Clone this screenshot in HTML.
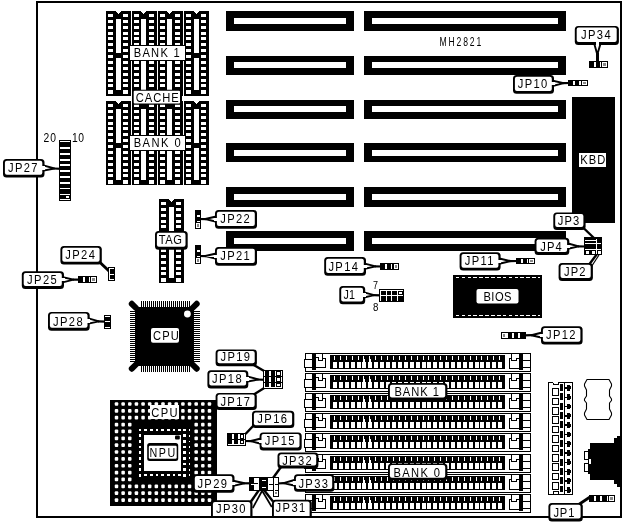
<!DOCTYPE html>
<html lang="en"><head><meta charset="utf-8"><title>MH2821 motherboard jumper layout</title>
<style>
html,body{margin:0;padding:0;background:#fff;}
body{width:624px;height:526px;overflow:hidden;}
svg{display:block;will-change:transform;font-family:"Liberation Sans",sans-serif;}
svg rect:not([rx]),svg polygon,svg line,svg polyline{shape-rendering:crispEdges;}
svg .aa{shape-rendering:geometricPrecision;}
</style></head><body>
<svg width="624" height="526" viewBox="0 0 624 526">
<rect x="0" y="0" width="624" height="526" fill="#fff"/>
<rect x="37" y="2" width="584" height="515" fill="#fff" stroke="#000" stroke-width="2"/>
<rect x="226" y="11" width="128" height="20" fill="#000"/>
<rect x="234" y="18" width="112" height="6" fill="#fff"/>
<rect x="364" y="11" width="202" height="20" fill="#000"/>
<rect x="372" y="18" width="186" height="6" fill="#fff"/>
<rect x="226" y="56" width="128" height="19" fill="#000"/>
<rect x="234" y="62" width="112" height="6" fill="#fff"/>
<rect x="364" y="56" width="202" height="19" fill="#000"/>
<rect x="372" y="62" width="186" height="6" fill="#fff"/>
<rect x="226" y="100" width="128" height="19" fill="#000"/>
<rect x="234" y="106" width="112" height="6" fill="#fff"/>
<rect x="364" y="100" width="202" height="19" fill="#000"/>
<rect x="372" y="106" width="186" height="6" fill="#fff"/>
<rect x="226" y="143" width="128" height="19" fill="#000"/>
<rect x="234" y="150" width="112" height="6" fill="#fff"/>
<rect x="364" y="143" width="202" height="19" fill="#000"/>
<rect x="372" y="150" width="186" height="6" fill="#fff"/>
<rect x="226" y="187" width="128" height="20" fill="#000"/>
<rect x="234" y="194" width="112" height="6" fill="#fff"/>
<rect x="364" y="187" width="202" height="20" fill="#000"/>
<rect x="372" y="194" width="186" height="6" fill="#fff"/>
<rect x="226" y="231" width="128" height="20" fill="#000"/>
<rect x="234" y="238" width="112" height="6" fill="#fff"/>
<rect x="364" y="231" width="202" height="20" fill="#000"/>
<rect x="372" y="238" width="186" height="6" fill="#fff"/>
<rect x="106" y="11" width="25" height="85" fill="#000"/>
<polygon points="116,11 121,11 119,14 118,14" fill="#fff"/>
<rect x="108" y="14" width="5" height="3" fill="#fff"/>
<rect x="123" y="14" width="5" height="3" fill="#fff"/>
<rect x="108" y="20" width="5" height="3" fill="#fff"/>
<rect x="123" y="20" width="5" height="3" fill="#fff"/>
<rect x="108" y="26" width="5" height="3" fill="#fff"/>
<rect x="123" y="26" width="5" height="3" fill="#fff"/>
<rect x="108" y="32" width="5" height="3" fill="#fff"/>
<rect x="123" y="32" width="5" height="3" fill="#fff"/>
<rect x="108" y="37" width="5" height="3" fill="#fff"/>
<rect x="123" y="37" width="5" height="3" fill="#fff"/>
<rect x="108" y="43" width="5" height="3" fill="#fff"/>
<rect x="123" y="43" width="5" height="3" fill="#fff"/>
<rect x="108" y="49" width="5" height="3" fill="#fff"/>
<rect x="123" y="49" width="5" height="3" fill="#fff"/>
<rect x="108" y="55" width="5" height="3" fill="#fff"/>
<rect x="123" y="55" width="5" height="3" fill="#fff"/>
<rect x="108" y="61" width="5" height="3" fill="#fff"/>
<rect x="123" y="61" width="5" height="3" fill="#fff"/>
<rect x="108" y="67" width="5" height="3" fill="#fff"/>
<rect x="123" y="67" width="5" height="3" fill="#fff"/>
<rect x="108" y="73" width="5" height="3" fill="#fff"/>
<rect x="123" y="73" width="5" height="3" fill="#fff"/>
<rect x="108" y="79" width="5" height="3" fill="#fff"/>
<rect x="123" y="79" width="5" height="3" fill="#fff"/>
<rect x="108" y="84" width="5" height="3" fill="#fff"/>
<rect x="123" y="84" width="5" height="3" fill="#fff"/>
<rect x="108" y="90" width="5" height="4" fill="#fff"/>
<rect x="123" y="90" width="5" height="4" fill="#fff"/>
<rect x="116" y="19" width="5" height="34" fill="#fff"/>
<rect x="116" y="58" width="5" height="32" fill="#fff"/>
<rect x="132" y="11" width="25" height="85" fill="#000"/>
<polygon points="141,11 146,11 144,14 143,14" fill="#fff"/>
<rect x="134" y="14" width="5" height="3" fill="#fff"/>
<rect x="149" y="14" width="5" height="3" fill="#fff"/>
<rect x="134" y="20" width="5" height="3" fill="#fff"/>
<rect x="149" y="20" width="5" height="3" fill="#fff"/>
<rect x="134" y="26" width="5" height="3" fill="#fff"/>
<rect x="149" y="26" width="5" height="3" fill="#fff"/>
<rect x="134" y="32" width="5" height="3" fill="#fff"/>
<rect x="149" y="32" width="5" height="3" fill="#fff"/>
<rect x="134" y="37" width="5" height="3" fill="#fff"/>
<rect x="149" y="37" width="5" height="3" fill="#fff"/>
<rect x="134" y="43" width="5" height="3" fill="#fff"/>
<rect x="149" y="43" width="5" height="3" fill="#fff"/>
<rect x="134" y="49" width="5" height="3" fill="#fff"/>
<rect x="149" y="49" width="5" height="3" fill="#fff"/>
<rect x="134" y="55" width="5" height="3" fill="#fff"/>
<rect x="149" y="55" width="5" height="3" fill="#fff"/>
<rect x="134" y="61" width="5" height="3" fill="#fff"/>
<rect x="149" y="61" width="5" height="3" fill="#fff"/>
<rect x="134" y="67" width="5" height="3" fill="#fff"/>
<rect x="149" y="67" width="5" height="3" fill="#fff"/>
<rect x="134" y="73" width="5" height="3" fill="#fff"/>
<rect x="149" y="73" width="5" height="3" fill="#fff"/>
<rect x="134" y="79" width="5" height="3" fill="#fff"/>
<rect x="149" y="79" width="5" height="3" fill="#fff"/>
<rect x="134" y="84" width="5" height="3" fill="#fff"/>
<rect x="149" y="84" width="5" height="3" fill="#fff"/>
<rect x="134" y="90" width="5" height="4" fill="#fff"/>
<rect x="149" y="90" width="5" height="4" fill="#fff"/>
<rect x="141" y="19" width="5" height="34" fill="#fff"/>
<rect x="141" y="58" width="5" height="32" fill="#fff"/>
<rect x="158" y="11" width="25" height="85" fill="#000"/>
<polygon points="167,11 172,11 170,14 169,14" fill="#fff"/>
<rect x="160" y="14" width="5" height="3" fill="#fff"/>
<rect x="175" y="14" width="5" height="3" fill="#fff"/>
<rect x="160" y="20" width="5" height="3" fill="#fff"/>
<rect x="175" y="20" width="5" height="3" fill="#fff"/>
<rect x="160" y="26" width="5" height="3" fill="#fff"/>
<rect x="175" y="26" width="5" height="3" fill="#fff"/>
<rect x="160" y="32" width="5" height="3" fill="#fff"/>
<rect x="175" y="32" width="5" height="3" fill="#fff"/>
<rect x="160" y="37" width="5" height="3" fill="#fff"/>
<rect x="175" y="37" width="5" height="3" fill="#fff"/>
<rect x="160" y="43" width="5" height="3" fill="#fff"/>
<rect x="175" y="43" width="5" height="3" fill="#fff"/>
<rect x="160" y="49" width="5" height="3" fill="#fff"/>
<rect x="175" y="49" width="5" height="3" fill="#fff"/>
<rect x="160" y="55" width="5" height="3" fill="#fff"/>
<rect x="175" y="55" width="5" height="3" fill="#fff"/>
<rect x="160" y="61" width="5" height="3" fill="#fff"/>
<rect x="175" y="61" width="5" height="3" fill="#fff"/>
<rect x="160" y="67" width="5" height="3" fill="#fff"/>
<rect x="175" y="67" width="5" height="3" fill="#fff"/>
<rect x="160" y="73" width="5" height="3" fill="#fff"/>
<rect x="175" y="73" width="5" height="3" fill="#fff"/>
<rect x="160" y="79" width="5" height="3" fill="#fff"/>
<rect x="175" y="79" width="5" height="3" fill="#fff"/>
<rect x="160" y="84" width="5" height="3" fill="#fff"/>
<rect x="175" y="84" width="5" height="3" fill="#fff"/>
<rect x="160" y="90" width="5" height="4" fill="#fff"/>
<rect x="175" y="90" width="5" height="4" fill="#fff"/>
<rect x="167" y="19" width="5" height="34" fill="#fff"/>
<rect x="167" y="58" width="5" height="32" fill="#fff"/>
<rect x="184" y="11" width="25" height="85" fill="#000"/>
<polygon points="194,11 199,11 197,14 196,14" fill="#fff"/>
<rect x="186" y="14" width="5" height="3" fill="#fff"/>
<rect x="201" y="14" width="5" height="3" fill="#fff"/>
<rect x="186" y="20" width="5" height="3" fill="#fff"/>
<rect x="201" y="20" width="5" height="3" fill="#fff"/>
<rect x="186" y="26" width="5" height="3" fill="#fff"/>
<rect x="201" y="26" width="5" height="3" fill="#fff"/>
<rect x="186" y="32" width="5" height="3" fill="#fff"/>
<rect x="201" y="32" width="5" height="3" fill="#fff"/>
<rect x="186" y="37" width="5" height="3" fill="#fff"/>
<rect x="201" y="37" width="5" height="3" fill="#fff"/>
<rect x="186" y="43" width="5" height="3" fill="#fff"/>
<rect x="201" y="43" width="5" height="3" fill="#fff"/>
<rect x="186" y="49" width="5" height="3" fill="#fff"/>
<rect x="201" y="49" width="5" height="3" fill="#fff"/>
<rect x="186" y="55" width="5" height="3" fill="#fff"/>
<rect x="201" y="55" width="5" height="3" fill="#fff"/>
<rect x="186" y="61" width="5" height="3" fill="#fff"/>
<rect x="201" y="61" width="5" height="3" fill="#fff"/>
<rect x="186" y="67" width="5" height="3" fill="#fff"/>
<rect x="201" y="67" width="5" height="3" fill="#fff"/>
<rect x="186" y="73" width="5" height="3" fill="#fff"/>
<rect x="201" y="73" width="5" height="3" fill="#fff"/>
<rect x="186" y="79" width="5" height="3" fill="#fff"/>
<rect x="201" y="79" width="5" height="3" fill="#fff"/>
<rect x="186" y="84" width="5" height="3" fill="#fff"/>
<rect x="201" y="84" width="5" height="3" fill="#fff"/>
<rect x="186" y="90" width="5" height="4" fill="#fff"/>
<rect x="201" y="90" width="5" height="4" fill="#fff"/>
<rect x="194" y="19" width="5" height="34" fill="#fff"/>
<rect x="194" y="58" width="5" height="32" fill="#fff"/>
<rect x="106" y="101" width="25" height="84" fill="#000"/>
<polygon points="116,101 121,101 119,104 118,104" fill="#fff"/>
<rect x="108" y="104" width="5" height="3" fill="#fff"/>
<rect x="123" y="104" width="5" height="3" fill="#fff"/>
<rect x="108" y="110" width="5" height="3" fill="#fff"/>
<rect x="123" y="110" width="5" height="3" fill="#fff"/>
<rect x="108" y="116" width="5" height="3" fill="#fff"/>
<rect x="123" y="116" width="5" height="3" fill="#fff"/>
<rect x="108" y="122" width="5" height="3" fill="#fff"/>
<rect x="123" y="122" width="5" height="3" fill="#fff"/>
<rect x="108" y="127" width="5" height="3" fill="#fff"/>
<rect x="123" y="127" width="5" height="3" fill="#fff"/>
<rect x="108" y="133" width="5" height="3" fill="#fff"/>
<rect x="123" y="133" width="5" height="3" fill="#fff"/>
<rect x="108" y="139" width="5" height="3" fill="#fff"/>
<rect x="123" y="139" width="5" height="3" fill="#fff"/>
<rect x="108" y="145" width="5" height="3" fill="#fff"/>
<rect x="123" y="145" width="5" height="3" fill="#fff"/>
<rect x="108" y="151" width="5" height="3" fill="#fff"/>
<rect x="123" y="151" width="5" height="3" fill="#fff"/>
<rect x="108" y="157" width="5" height="3" fill="#fff"/>
<rect x="123" y="157" width="5" height="3" fill="#fff"/>
<rect x="108" y="163" width="5" height="3" fill="#fff"/>
<rect x="123" y="163" width="5" height="3" fill="#fff"/>
<rect x="108" y="169" width="5" height="3" fill="#fff"/>
<rect x="123" y="169" width="5" height="3" fill="#fff"/>
<rect x="108" y="174" width="5" height="3" fill="#fff"/>
<rect x="123" y="174" width="5" height="3" fill="#fff"/>
<rect x="108" y="180" width="5" height="4" fill="#fff"/>
<rect x="123" y="180" width="5" height="4" fill="#fff"/>
<rect x="116" y="109" width="5" height="34" fill="#fff"/>
<rect x="116" y="148" width="5" height="32" fill="#fff"/>
<rect x="132" y="101" width="25" height="84" fill="#000"/>
<polygon points="141,101 146,101 144,104 143,104" fill="#fff"/>
<rect x="134" y="104" width="5" height="3" fill="#fff"/>
<rect x="149" y="104" width="5" height="3" fill="#fff"/>
<rect x="134" y="110" width="5" height="3" fill="#fff"/>
<rect x="149" y="110" width="5" height="3" fill="#fff"/>
<rect x="134" y="116" width="5" height="3" fill="#fff"/>
<rect x="149" y="116" width="5" height="3" fill="#fff"/>
<rect x="134" y="122" width="5" height="3" fill="#fff"/>
<rect x="149" y="122" width="5" height="3" fill="#fff"/>
<rect x="134" y="127" width="5" height="3" fill="#fff"/>
<rect x="149" y="127" width="5" height="3" fill="#fff"/>
<rect x="134" y="133" width="5" height="3" fill="#fff"/>
<rect x="149" y="133" width="5" height="3" fill="#fff"/>
<rect x="134" y="139" width="5" height="3" fill="#fff"/>
<rect x="149" y="139" width="5" height="3" fill="#fff"/>
<rect x="134" y="145" width="5" height="3" fill="#fff"/>
<rect x="149" y="145" width="5" height="3" fill="#fff"/>
<rect x="134" y="151" width="5" height="3" fill="#fff"/>
<rect x="149" y="151" width="5" height="3" fill="#fff"/>
<rect x="134" y="157" width="5" height="3" fill="#fff"/>
<rect x="149" y="157" width="5" height="3" fill="#fff"/>
<rect x="134" y="163" width="5" height="3" fill="#fff"/>
<rect x="149" y="163" width="5" height="3" fill="#fff"/>
<rect x="134" y="169" width="5" height="3" fill="#fff"/>
<rect x="149" y="169" width="5" height="3" fill="#fff"/>
<rect x="134" y="174" width="5" height="3" fill="#fff"/>
<rect x="149" y="174" width="5" height="3" fill="#fff"/>
<rect x="134" y="180" width="5" height="4" fill="#fff"/>
<rect x="149" y="180" width="5" height="4" fill="#fff"/>
<rect x="141" y="109" width="5" height="34" fill="#fff"/>
<rect x="141" y="148" width="5" height="32" fill="#fff"/>
<rect x="158" y="101" width="25" height="84" fill="#000"/>
<polygon points="167,101 172,101 170,104 169,104" fill="#fff"/>
<rect x="160" y="104" width="5" height="3" fill="#fff"/>
<rect x="175" y="104" width="5" height="3" fill="#fff"/>
<rect x="160" y="110" width="5" height="3" fill="#fff"/>
<rect x="175" y="110" width="5" height="3" fill="#fff"/>
<rect x="160" y="116" width="5" height="3" fill="#fff"/>
<rect x="175" y="116" width="5" height="3" fill="#fff"/>
<rect x="160" y="122" width="5" height="3" fill="#fff"/>
<rect x="175" y="122" width="5" height="3" fill="#fff"/>
<rect x="160" y="127" width="5" height="3" fill="#fff"/>
<rect x="175" y="127" width="5" height="3" fill="#fff"/>
<rect x="160" y="133" width="5" height="3" fill="#fff"/>
<rect x="175" y="133" width="5" height="3" fill="#fff"/>
<rect x="160" y="139" width="5" height="3" fill="#fff"/>
<rect x="175" y="139" width="5" height="3" fill="#fff"/>
<rect x="160" y="145" width="5" height="3" fill="#fff"/>
<rect x="175" y="145" width="5" height="3" fill="#fff"/>
<rect x="160" y="151" width="5" height="3" fill="#fff"/>
<rect x="175" y="151" width="5" height="3" fill="#fff"/>
<rect x="160" y="157" width="5" height="3" fill="#fff"/>
<rect x="175" y="157" width="5" height="3" fill="#fff"/>
<rect x="160" y="163" width="5" height="3" fill="#fff"/>
<rect x="175" y="163" width="5" height="3" fill="#fff"/>
<rect x="160" y="169" width="5" height="3" fill="#fff"/>
<rect x="175" y="169" width="5" height="3" fill="#fff"/>
<rect x="160" y="174" width="5" height="3" fill="#fff"/>
<rect x="175" y="174" width="5" height="3" fill="#fff"/>
<rect x="160" y="180" width="5" height="4" fill="#fff"/>
<rect x="175" y="180" width="5" height="4" fill="#fff"/>
<rect x="167" y="109" width="5" height="34" fill="#fff"/>
<rect x="167" y="148" width="5" height="32" fill="#fff"/>
<rect x="184" y="101" width="25" height="84" fill="#000"/>
<polygon points="194,101 199,101 197,104 196,104" fill="#fff"/>
<rect x="186" y="104" width="5" height="3" fill="#fff"/>
<rect x="201" y="104" width="5" height="3" fill="#fff"/>
<rect x="186" y="110" width="5" height="3" fill="#fff"/>
<rect x="201" y="110" width="5" height="3" fill="#fff"/>
<rect x="186" y="116" width="5" height="3" fill="#fff"/>
<rect x="201" y="116" width="5" height="3" fill="#fff"/>
<rect x="186" y="122" width="5" height="3" fill="#fff"/>
<rect x="201" y="122" width="5" height="3" fill="#fff"/>
<rect x="186" y="127" width="5" height="3" fill="#fff"/>
<rect x="201" y="127" width="5" height="3" fill="#fff"/>
<rect x="186" y="133" width="5" height="3" fill="#fff"/>
<rect x="201" y="133" width="5" height="3" fill="#fff"/>
<rect x="186" y="139" width="5" height="3" fill="#fff"/>
<rect x="201" y="139" width="5" height="3" fill="#fff"/>
<rect x="186" y="145" width="5" height="3" fill="#fff"/>
<rect x="201" y="145" width="5" height="3" fill="#fff"/>
<rect x="186" y="151" width="5" height="3" fill="#fff"/>
<rect x="201" y="151" width="5" height="3" fill="#fff"/>
<rect x="186" y="157" width="5" height="3" fill="#fff"/>
<rect x="201" y="157" width="5" height="3" fill="#fff"/>
<rect x="186" y="163" width="5" height="3" fill="#fff"/>
<rect x="201" y="163" width="5" height="3" fill="#fff"/>
<rect x="186" y="169" width="5" height="3" fill="#fff"/>
<rect x="201" y="169" width="5" height="3" fill="#fff"/>
<rect x="186" y="174" width="5" height="3" fill="#fff"/>
<rect x="201" y="174" width="5" height="3" fill="#fff"/>
<rect x="186" y="180" width="5" height="4" fill="#fff"/>
<rect x="201" y="180" width="5" height="4" fill="#fff"/>
<rect x="194" y="109" width="5" height="34" fill="#fff"/>
<rect x="194" y="148" width="5" height="32" fill="#fff"/>
<rect x="159" y="199" width="25" height="84" fill="#000"/>
<polygon points="169,199 174,199 172,202 171,202" fill="#fff"/>
<rect x="161" y="202" width="5" height="3" fill="#fff"/>
<rect x="176" y="202" width="5" height="3" fill="#fff"/>
<rect x="161" y="208" width="5" height="3" fill="#fff"/>
<rect x="176" y="208" width="5" height="3" fill="#fff"/>
<rect x="161" y="214" width="5" height="3" fill="#fff"/>
<rect x="176" y="214" width="5" height="3" fill="#fff"/>
<rect x="161" y="220" width="5" height="3" fill="#fff"/>
<rect x="176" y="220" width="5" height="3" fill="#fff"/>
<rect x="161" y="225" width="5" height="3" fill="#fff"/>
<rect x="176" y="225" width="5" height="3" fill="#fff"/>
<rect x="161" y="231" width="5" height="3" fill="#fff"/>
<rect x="176" y="231" width="5" height="3" fill="#fff"/>
<rect x="161" y="237" width="5" height="3" fill="#fff"/>
<rect x="176" y="237" width="5" height="3" fill="#fff"/>
<rect x="161" y="243" width="5" height="3" fill="#fff"/>
<rect x="176" y="243" width="5" height="3" fill="#fff"/>
<rect x="161" y="249" width="5" height="3" fill="#fff"/>
<rect x="176" y="249" width="5" height="3" fill="#fff"/>
<rect x="161" y="255" width="5" height="3" fill="#fff"/>
<rect x="176" y="255" width="5" height="3" fill="#fff"/>
<rect x="161" y="261" width="5" height="3" fill="#fff"/>
<rect x="176" y="261" width="5" height="3" fill="#fff"/>
<rect x="161" y="267" width="5" height="3" fill="#fff"/>
<rect x="176" y="267" width="5" height="3" fill="#fff"/>
<rect x="161" y="272" width="5" height="3" fill="#fff"/>
<rect x="176" y="272" width="5" height="3" fill="#fff"/>
<rect x="161" y="278" width="5" height="4" fill="#fff"/>
<rect x="176" y="278" width="5" height="4" fill="#fff"/>
<rect x="169" y="207" width="5" height="34" fill="#fff"/>
<rect x="169" y="246" width="5" height="32" fill="#fff"/>
<rect x="129" y="45" width="57" height="16" fill="#000"/>
<rect x="130" y="46" width="55" height="14" fill="#fff"/>
<text transform="translate(133.70,57) scale(0.860,1)" font-size="13" fill="#000" letter-spacing="1.448">BANK 1</text>
<rect x="129" y="135" width="57" height="16" fill="#000"/>
<rect x="130" y="136" width="55" height="14" fill="#fff"/>
<text transform="translate(133.70,147) scale(0.860,1)" font-size="13" fill="#000" letter-spacing="1.681">BANK 0</text>
<rect x="132" y="89.8" width="50" height="15" rx="2" fill="#000"/>
<rect x="133.7" y="90.8" width="46.3" height="12.6" rx="1" fill="#fff"/>
<text transform="translate(135.70,101.8) scale(0.860,1)" font-size="13" fill="#000" letter-spacing="1.124">CACHE</text>
<rect x="572" y="97" width="43" height="125.5" fill="#000"/>
<rect x="579" y="152.5" width="27" height="14" fill="#fff"/>
<text transform="translate(580.30,164) scale(0.860,1)" font-size="13" fill="#000" letter-spacing="1.170">KBD</text>
<rect x="453" y="275" width="89" height="43" fill="#000"/>
<rect x="455.8" y="277" width="3.6" height="1" fill="#fff"/>
<rect x="455.8" y="314.5" width="3.6" height="1" fill="#fff"/>
<rect x="461.68" y="277" width="3.6" height="1" fill="#fff"/>
<rect x="461.68" y="314.5" width="3.6" height="1" fill="#fff"/>
<rect x="467.56" y="277" width="3.6" height="1" fill="#fff"/>
<rect x="467.56" y="314.5" width="3.6" height="1" fill="#fff"/>
<rect x="473.44" y="277" width="3.6" height="1" fill="#fff"/>
<rect x="473.44" y="314.5" width="3.6" height="1" fill="#fff"/>
<rect x="479.32" y="277" width="3.6" height="1" fill="#fff"/>
<rect x="479.32" y="314.5" width="3.6" height="1" fill="#fff"/>
<rect x="485.2" y="277" width="3.6" height="1" fill="#fff"/>
<rect x="485.2" y="314.5" width="3.6" height="1" fill="#fff"/>
<rect x="491.08" y="277" width="3.6" height="1" fill="#fff"/>
<rect x="491.08" y="314.5" width="3.6" height="1" fill="#fff"/>
<rect x="496.96" y="277" width="3.6" height="1" fill="#fff"/>
<rect x="496.96" y="314.5" width="3.6" height="1" fill="#fff"/>
<rect x="502.84" y="277" width="3.6" height="1" fill="#fff"/>
<rect x="502.84" y="314.5" width="3.6" height="1" fill="#fff"/>
<rect x="508.72" y="277" width="3.6" height="1" fill="#fff"/>
<rect x="508.72" y="314.5" width="3.6" height="1" fill="#fff"/>
<rect x="514.6" y="277" width="3.6" height="1" fill="#fff"/>
<rect x="514.6" y="314.5" width="3.6" height="1" fill="#fff"/>
<rect x="520.48" y="277" width="3.6" height="1" fill="#fff"/>
<rect x="520.48" y="314.5" width="3.6" height="1" fill="#fff"/>
<rect x="526.36" y="277" width="3.6" height="1" fill="#fff"/>
<rect x="526.36" y="314.5" width="3.6" height="1" fill="#fff"/>
<rect x="532.24" y="277" width="3.6" height="1" fill="#fff"/>
<rect x="532.24" y="314.5" width="3.6" height="1" fill="#fff"/>
<rect x="538.12" y="277" width="2.28" height="1" fill="#fff"/>
<rect x="538.12" y="314.5" width="2.28" height="1" fill="#fff"/>
<rect x="476.5" y="289" width="42" height="14.5" rx="2" fill="#fff"/>
<text transform="translate(483.50,301) scale(0.860,1)" font-size="13" fill="#000" letter-spacing="0.496">BIOS</text>
<text transform="translate(439.60,46) scale(0.700,1)" font-size="12.3" fill="#000" letter-spacing="2.590">MH2821</text>
<text transform="translate(43.50,141.5) scale(0.860,1)" font-size="12" fill="#000" letter-spacing="1.183">20</text>
<text transform="translate(72.00,141.5) scale(0.860,1)" font-size="12" fill="#000" letter-spacing="0.602">10</text>
<text transform="translate(373.00,288.6) scale(0.782,1)" font-size="11.5" fill="#000">7</text>
<text transform="translate(373.00,311.2) scale(0.844,1)" font-size="11.5" fill="#000">8</text>
<line x1="136" y1="308" x2="131.8" y2="303.8" stroke="#000" stroke-width="6" stroke-linecap="round" class="aa"/>
<line x1="192.5" y1="308" x2="196.7" y2="303.8" stroke="#000" stroke-width="6" stroke-linecap="round" class="aa"/>
<line x1="136" y1="364.5" x2="131.8" y2="368.7" stroke="#000" stroke-width="6" stroke-linecap="round" class="aa"/>
<line x1="192.5" y1="364.5" x2="196.7" y2="368.7" stroke="#000" stroke-width="6" stroke-linecap="round" class="aa"/>
<rect x="134.5" y="306.5" width="59.5" height="59.5" fill="#000"/>
<rect x="141" y="301" width="1" height="6" fill="#000"/>
<rect x="141" y="366" width="1" height="6" fill="#000"/>
<rect x="143" y="301" width="1" height="6" fill="#000"/>
<rect x="143" y="366" width="1" height="6" fill="#000"/>
<rect x="145" y="301" width="1" height="6" fill="#000"/>
<rect x="145" y="366" width="1" height="6" fill="#000"/>
<rect x="147" y="301" width="1" height="6" fill="#000"/>
<rect x="147" y="366" width="1" height="6" fill="#000"/>
<rect x="149" y="301" width="1" height="6" fill="#000"/>
<rect x="149" y="366" width="1" height="6" fill="#000"/>
<rect x="151" y="301" width="1" height="6" fill="#000"/>
<rect x="151" y="366" width="1" height="6" fill="#000"/>
<rect x="153" y="301" width="1" height="6" fill="#000"/>
<rect x="153" y="366" width="1" height="6" fill="#000"/>
<rect x="155" y="301" width="1" height="6" fill="#000"/>
<rect x="155" y="366" width="1" height="6" fill="#000"/>
<rect x="157" y="301" width="1" height="6" fill="#000"/>
<rect x="157" y="366" width="1" height="6" fill="#000"/>
<rect x="159" y="301" width="1" height="6" fill="#000"/>
<rect x="159" y="366" width="1" height="6" fill="#000"/>
<rect x="161" y="301" width="1" height="6" fill="#000"/>
<rect x="161" y="366" width="1" height="6" fill="#000"/>
<rect x="163" y="301" width="1" height="6" fill="#000"/>
<rect x="163" y="366" width="1" height="6" fill="#000"/>
<rect x="165" y="301" width="1" height="6" fill="#000"/>
<rect x="165" y="366" width="1" height="6" fill="#000"/>
<rect x="167" y="301" width="1" height="6" fill="#000"/>
<rect x="167" y="366" width="1" height="6" fill="#000"/>
<rect x="169" y="301" width="1" height="6" fill="#000"/>
<rect x="169" y="366" width="1" height="6" fill="#000"/>
<rect x="171" y="301" width="1" height="6" fill="#000"/>
<rect x="171" y="366" width="1" height="6" fill="#000"/>
<rect x="173" y="301" width="1" height="6" fill="#000"/>
<rect x="173" y="366" width="1" height="6" fill="#000"/>
<rect x="175" y="301" width="1" height="6" fill="#000"/>
<rect x="175" y="366" width="1" height="6" fill="#000"/>
<rect x="177" y="301" width="1" height="6" fill="#000"/>
<rect x="177" y="366" width="1" height="6" fill="#000"/>
<rect x="179" y="301" width="1" height="6" fill="#000"/>
<rect x="179" y="366" width="1" height="6" fill="#000"/>
<rect x="181" y="301" width="1" height="6" fill="#000"/>
<rect x="181" y="366" width="1" height="6" fill="#000"/>
<rect x="183" y="301" width="1" height="6" fill="#000"/>
<rect x="183" y="366" width="1" height="6" fill="#000"/>
<rect x="185" y="301" width="1" height="6" fill="#000"/>
<rect x="185" y="366" width="1" height="6" fill="#000"/>
<rect x="187" y="301" width="1" height="6" fill="#000"/>
<rect x="187" y="366" width="1" height="6" fill="#000"/>
<rect x="189" y="301" width="1" height="6" fill="#000"/>
<rect x="189" y="366" width="1" height="6" fill="#000"/>
<rect x="130" y="311" width="5" height="1" fill="#000"/>
<rect x="194" y="311" width="6" height="1" fill="#000"/>
<rect x="130" y="313" width="5" height="1" fill="#000"/>
<rect x="194" y="313" width="6" height="1" fill="#000"/>
<rect x="130" y="315" width="5" height="1" fill="#000"/>
<rect x="194" y="315" width="6" height="1" fill="#000"/>
<rect x="130" y="317" width="5" height="1" fill="#000"/>
<rect x="194" y="317" width="6" height="1" fill="#000"/>
<rect x="130" y="319" width="5" height="1" fill="#000"/>
<rect x="194" y="319" width="6" height="1" fill="#000"/>
<rect x="130" y="321" width="5" height="1" fill="#000"/>
<rect x="194" y="321" width="6" height="1" fill="#000"/>
<rect x="130" y="323" width="5" height="1" fill="#000"/>
<rect x="194" y="323" width="6" height="1" fill="#000"/>
<rect x="130" y="325" width="5" height="1" fill="#000"/>
<rect x="194" y="325" width="6" height="1" fill="#000"/>
<rect x="130" y="327" width="5" height="1" fill="#000"/>
<rect x="194" y="327" width="6" height="1" fill="#000"/>
<rect x="130" y="329" width="5" height="1" fill="#000"/>
<rect x="194" y="329" width="6" height="1" fill="#000"/>
<rect x="130" y="331" width="5" height="1" fill="#000"/>
<rect x="194" y="331" width="6" height="1" fill="#000"/>
<rect x="130" y="333" width="5" height="1" fill="#000"/>
<rect x="194" y="333" width="6" height="1" fill="#000"/>
<rect x="130" y="335" width="5" height="1" fill="#000"/>
<rect x="194" y="335" width="6" height="1" fill="#000"/>
<rect x="130" y="337" width="5" height="1" fill="#000"/>
<rect x="194" y="337" width="6" height="1" fill="#000"/>
<rect x="130" y="339" width="5" height="1" fill="#000"/>
<rect x="194" y="339" width="6" height="1" fill="#000"/>
<rect x="130" y="341" width="5" height="1" fill="#000"/>
<rect x="194" y="341" width="6" height="1" fill="#000"/>
<rect x="130" y="343" width="5" height="1" fill="#000"/>
<rect x="194" y="343" width="6" height="1" fill="#000"/>
<rect x="130" y="345" width="5" height="1" fill="#000"/>
<rect x="194" y="345" width="6" height="1" fill="#000"/>
<rect x="130" y="347" width="5" height="1" fill="#000"/>
<rect x="194" y="347" width="6" height="1" fill="#000"/>
<rect x="130" y="349" width="5" height="1" fill="#000"/>
<rect x="194" y="349" width="6" height="1" fill="#000"/>
<rect x="130" y="351" width="5" height="1" fill="#000"/>
<rect x="194" y="351" width="6" height="1" fill="#000"/>
<rect x="130" y="353" width="5" height="1" fill="#000"/>
<rect x="194" y="353" width="6" height="1" fill="#000"/>
<rect x="130" y="355" width="5" height="1" fill="#000"/>
<rect x="194" y="355" width="6" height="1" fill="#000"/>
<rect x="130" y="357" width="5" height="1" fill="#000"/>
<rect x="194" y="357" width="6" height="1" fill="#000"/>
<rect x="130" y="359" width="5" height="1" fill="#000"/>
<rect x="194" y="359" width="6" height="1" fill="#000"/>
<rect x="130" y="361" width="5" height="1" fill="#000"/>
<rect x="194" y="361" width="6" height="1" fill="#000"/>
<circle cx="187.4" cy="314" r="3.4" fill="#fff"/>
<rect x="151" y="328" width="28" height="14.7" rx="2" fill="#fff"/>
<text transform="translate(152.90,340.3) scale(0.860,1)" font-size="13" fill="#000" letter-spacing="1.394">CPU</text>
<rect x="110" y="400" width="107" height="105.5" fill="#000"/>
<rect x="114.75" y="402.15" width="3.5" height="3.7" rx="1" fill="#fff"/>
<rect x="121.39" y="402.15" width="3.5" height="3.7" rx="1" fill="#fff"/>
<rect x="128.03" y="402.15" width="3.5" height="3.7" rx="1" fill="#fff"/>
<rect x="134.67" y="402.15" width="3.5" height="3.7" rx="1" fill="#fff"/>
<rect x="141.31" y="402.15" width="3.5" height="3.7" rx="1" fill="#fff"/>
<rect x="147.95" y="402.15" width="3.5" height="3.7" rx="1" fill="#fff"/>
<rect x="154.59" y="402.15" width="3.5" height="3.7" rx="1" fill="#fff"/>
<rect x="161.23" y="402.15" width="3.5" height="3.7" rx="1" fill="#fff"/>
<rect x="167.87" y="402.15" width="3.5" height="3.7" rx="1" fill="#fff"/>
<rect x="174.51" y="402.15" width="3.5" height="3.7" rx="1" fill="#fff"/>
<rect x="181.15" y="402.15" width="3.5" height="3.7" rx="1" fill="#fff"/>
<rect x="187.79" y="402.15" width="3.5" height="3.7" rx="1" fill="#fff"/>
<rect x="194.43" y="402.15" width="3.5" height="3.7" rx="1" fill="#fff"/>
<rect x="201.07" y="402.15" width="3.5" height="3.7" rx="1" fill="#fff"/>
<rect x="207.71" y="402.15" width="3.5" height="3.7" rx="1" fill="#fff"/>
<rect x="114.75" y="409.01" width="3.5" height="3.7" rx="1" fill="#fff"/>
<rect x="121.39" y="409.01" width="3.5" height="3.7" rx="1" fill="#fff"/>
<rect x="128.03" y="409.01" width="3.5" height="3.7" rx="1" fill="#fff"/>
<rect x="134.67" y="409.01" width="3.5" height="3.7" rx="1" fill="#fff"/>
<rect x="141.31" y="409.01" width="3.5" height="3.7" rx="1" fill="#fff"/>
<rect x="147.95" y="409.01" width="3.5" height="3.7" rx="1" fill="#fff"/>
<rect x="154.59" y="409.01" width="3.5" height="3.7" rx="1" fill="#fff"/>
<rect x="161.23" y="409.01" width="3.5" height="3.7" rx="1" fill="#fff"/>
<rect x="167.87" y="409.01" width="3.5" height="3.7" rx="1" fill="#fff"/>
<rect x="174.51" y="409.01" width="3.5" height="3.7" rx="1" fill="#fff"/>
<rect x="181.15" y="409.01" width="3.5" height="3.7" rx="1" fill="#fff"/>
<rect x="187.79" y="409.01" width="3.5" height="3.7" rx="1" fill="#fff"/>
<rect x="194.43" y="409.01" width="3.5" height="3.7" rx="1" fill="#fff"/>
<rect x="201.07" y="409.01" width="3.5" height="3.7" rx="1" fill="#fff"/>
<rect x="207.71" y="409.01" width="3.5" height="3.7" rx="1" fill="#fff"/>
<rect x="114.75" y="415.87" width="3.5" height="3.7" rx="1" fill="#fff"/>
<rect x="121.39" y="415.87" width="3.5" height="3.7" rx="1" fill="#fff"/>
<rect x="128.03" y="415.87" width="3.5" height="3.7" rx="1" fill="#fff"/>
<rect x="134.67" y="415.87" width="3.5" height="3.7" rx="1" fill="#fff"/>
<rect x="141.31" y="415.87" width="3.5" height="3.7" rx="1" fill="#fff"/>
<rect x="147.95" y="415.87" width="3.5" height="3.7" rx="1" fill="#fff"/>
<rect x="154.59" y="415.87" width="3.5" height="3.7" rx="1" fill="#fff"/>
<rect x="161.23" y="415.87" width="3.5" height="3.7" rx="1" fill="#fff"/>
<rect x="167.87" y="415.87" width="3.5" height="3.7" rx="1" fill="#fff"/>
<rect x="174.51" y="415.87" width="3.5" height="3.7" rx="1" fill="#fff"/>
<rect x="181.15" y="415.87" width="3.5" height="3.7" rx="1" fill="#fff"/>
<rect x="187.79" y="415.87" width="3.5" height="3.7" rx="1" fill="#fff"/>
<rect x="194.43" y="415.87" width="3.5" height="3.7" rx="1" fill="#fff"/>
<rect x="201.07" y="415.87" width="3.5" height="3.7" rx="1" fill="#fff"/>
<rect x="207.71" y="415.87" width="3.5" height="3.7" rx="1" fill="#fff"/>
<rect x="114.75" y="422.73" width="3.5" height="3.7" rx="1" fill="#fff"/>
<rect x="121.39" y="422.73" width="3.5" height="3.7" rx="1" fill="#fff"/>
<rect x="128.03" y="422.73" width="3.5" height="3.7" rx="1" fill="#fff"/>
<rect x="194.43" y="422.73" width="3.5" height="3.7" rx="1" fill="#fff"/>
<rect x="201.07" y="422.73" width="3.5" height="3.7" rx="1" fill="#fff"/>
<rect x="207.71" y="422.73" width="3.5" height="3.7" rx="1" fill="#fff"/>
<rect x="114.75" y="429.59" width="3.5" height="3.7" rx="1" fill="#fff"/>
<rect x="121.39" y="429.59" width="3.5" height="3.7" rx="1" fill="#fff"/>
<rect x="128.03" y="429.59" width="3.5" height="3.7" rx="1" fill="#fff"/>
<rect x="194.43" y="429.59" width="3.5" height="3.7" rx="1" fill="#fff"/>
<rect x="201.07" y="429.59" width="3.5" height="3.7" rx="1" fill="#fff"/>
<rect x="207.71" y="429.59" width="3.5" height="3.7" rx="1" fill="#fff"/>
<rect x="114.75" y="436.45" width="3.5" height="3.7" rx="1" fill="#fff"/>
<rect x="121.39" y="436.45" width="3.5" height="3.7" rx="1" fill="#fff"/>
<rect x="128.03" y="436.45" width="3.5" height="3.7" rx="1" fill="#fff"/>
<rect x="194.43" y="436.45" width="3.5" height="3.7" rx="1" fill="#fff"/>
<rect x="201.07" y="436.45" width="3.5" height="3.7" rx="1" fill="#fff"/>
<rect x="207.71" y="436.45" width="3.5" height="3.7" rx="1" fill="#fff"/>
<rect x="114.75" y="443.31" width="3.5" height="3.7" rx="1" fill="#fff"/>
<rect x="121.39" y="443.31" width="3.5" height="3.7" rx="1" fill="#fff"/>
<rect x="128.03" y="443.31" width="3.5" height="3.7" rx="1" fill="#fff"/>
<rect x="194.43" y="443.31" width="3.5" height="3.7" rx="1" fill="#fff"/>
<rect x="201.07" y="443.31" width="3.5" height="3.7" rx="1" fill="#fff"/>
<rect x="207.71" y="443.31" width="3.5" height="3.7" rx="1" fill="#fff"/>
<rect x="114.75" y="450.17" width="3.5" height="3.7" rx="1" fill="#fff"/>
<rect x="121.39" y="450.17" width="3.5" height="3.7" rx="1" fill="#fff"/>
<rect x="128.03" y="450.17" width="3.5" height="3.7" rx="1" fill="#fff"/>
<rect x="194.43" y="450.17" width="3.5" height="3.7" rx="1" fill="#fff"/>
<rect x="201.07" y="450.17" width="3.5" height="3.7" rx="1" fill="#fff"/>
<rect x="207.71" y="450.17" width="3.5" height="3.7" rx="1" fill="#fff"/>
<rect x="114.75" y="457.03" width="3.5" height="3.7" rx="1" fill="#fff"/>
<rect x="121.39" y="457.03" width="3.5" height="3.7" rx="1" fill="#fff"/>
<rect x="128.03" y="457.03" width="3.5" height="3.7" rx="1" fill="#fff"/>
<rect x="194.43" y="457.03" width="3.5" height="3.7" rx="1" fill="#fff"/>
<rect x="201.07" y="457.03" width="3.5" height="3.7" rx="1" fill="#fff"/>
<rect x="207.71" y="457.03" width="3.5" height="3.7" rx="1" fill="#fff"/>
<rect x="114.75" y="463.89" width="3.5" height="3.7" rx="1" fill="#fff"/>
<rect x="121.39" y="463.89" width="3.5" height="3.7" rx="1" fill="#fff"/>
<rect x="128.03" y="463.89" width="3.5" height="3.7" rx="1" fill="#fff"/>
<rect x="194.43" y="463.89" width="3.5" height="3.7" rx="1" fill="#fff"/>
<rect x="201.07" y="463.89" width="3.5" height="3.7" rx="1" fill="#fff"/>
<rect x="207.71" y="463.89" width="3.5" height="3.7" rx="1" fill="#fff"/>
<rect x="114.75" y="470.75" width="3.5" height="3.7" rx="1" fill="#fff"/>
<rect x="121.39" y="470.75" width="3.5" height="3.7" rx="1" fill="#fff"/>
<rect x="128.03" y="470.75" width="3.5" height="3.7" rx="1" fill="#fff"/>
<rect x="194.43" y="470.75" width="3.5" height="3.7" rx="1" fill="#fff"/>
<rect x="201.07" y="470.75" width="3.5" height="3.7" rx="1" fill="#fff"/>
<rect x="207.71" y="470.75" width="3.5" height="3.7" rx="1" fill="#fff"/>
<rect x="114.75" y="477.61" width="3.5" height="3.7" rx="1" fill="#fff"/>
<rect x="121.39" y="477.61" width="3.5" height="3.7" rx="1" fill="#fff"/>
<rect x="128.03" y="477.61" width="3.5" height="3.7" rx="1" fill="#fff"/>
<rect x="194.43" y="477.61" width="3.5" height="3.7" rx="1" fill="#fff"/>
<rect x="201.07" y="477.61" width="3.5" height="3.7" rx="1" fill="#fff"/>
<rect x="207.71" y="477.61" width="3.5" height="3.7" rx="1" fill="#fff"/>
<rect x="114.75" y="484.47" width="3.5" height="3.7" rx="1" fill="#fff"/>
<rect x="121.39" y="484.47" width="3.5" height="3.7" rx="1" fill="#fff"/>
<rect x="128.03" y="484.47" width="3.5" height="3.7" rx="1" fill="#fff"/>
<rect x="134.67" y="484.47" width="3.5" height="3.7" rx="1" fill="#fff"/>
<rect x="141.31" y="484.47" width="3.5" height="3.7" rx="1" fill="#fff"/>
<rect x="147.95" y="484.47" width="3.5" height="3.7" rx="1" fill="#fff"/>
<rect x="154.59" y="484.47" width="3.5" height="3.7" rx="1" fill="#fff"/>
<rect x="161.23" y="484.47" width="3.5" height="3.7" rx="1" fill="#fff"/>
<rect x="167.87" y="484.47" width="3.5" height="3.7" rx="1" fill="#fff"/>
<rect x="174.51" y="484.47" width="3.5" height="3.7" rx="1" fill="#fff"/>
<rect x="181.15" y="484.47" width="3.5" height="3.7" rx="1" fill="#fff"/>
<rect x="187.79" y="484.47" width="3.5" height="3.7" rx="1" fill="#fff"/>
<rect x="194.43" y="484.47" width="3.5" height="3.7" rx="1" fill="#fff"/>
<rect x="201.07" y="484.47" width="3.5" height="3.7" rx="1" fill="#fff"/>
<rect x="207.71" y="484.47" width="3.5" height="3.7" rx="1" fill="#fff"/>
<rect x="114.75" y="491.33" width="3.5" height="3.7" rx="1" fill="#fff"/>
<rect x="121.39" y="491.33" width="3.5" height="3.7" rx="1" fill="#fff"/>
<rect x="128.03" y="491.33" width="3.5" height="3.7" rx="1" fill="#fff"/>
<rect x="134.67" y="491.33" width="3.5" height="3.7" rx="1" fill="#fff"/>
<rect x="141.31" y="491.33" width="3.5" height="3.7" rx="1" fill="#fff"/>
<rect x="147.95" y="491.33" width="3.5" height="3.7" rx="1" fill="#fff"/>
<rect x="154.59" y="491.33" width="3.5" height="3.7" rx="1" fill="#fff"/>
<rect x="161.23" y="491.33" width="3.5" height="3.7" rx="1" fill="#fff"/>
<rect x="167.87" y="491.33" width="3.5" height="3.7" rx="1" fill="#fff"/>
<rect x="174.51" y="491.33" width="3.5" height="3.7" rx="1" fill="#fff"/>
<rect x="181.15" y="491.33" width="3.5" height="3.7" rx="1" fill="#fff"/>
<rect x="187.79" y="491.33" width="3.5" height="3.7" rx="1" fill="#fff"/>
<rect x="194.43" y="491.33" width="3.5" height="3.7" rx="1" fill="#fff"/>
<rect x="201.07" y="491.33" width="3.5" height="3.7" rx="1" fill="#fff"/>
<rect x="207.71" y="491.33" width="3.5" height="3.7" rx="1" fill="#fff"/>
<rect x="114.75" y="498.19" width="3.5" height="3.7" rx="1" fill="#fff"/>
<rect x="121.39" y="498.19" width="3.5" height="3.7" rx="1" fill="#fff"/>
<rect x="128.03" y="498.19" width="3.5" height="3.7" rx="1" fill="#fff"/>
<rect x="134.67" y="498.19" width="3.5" height="3.7" rx="1" fill="#fff"/>
<rect x="141.31" y="498.19" width="3.5" height="3.7" rx="1" fill="#fff"/>
<rect x="147.95" y="498.19" width="3.5" height="3.7" rx="1" fill="#fff"/>
<rect x="154.59" y="498.19" width="3.5" height="3.7" rx="1" fill="#fff"/>
<rect x="161.23" y="498.19" width="3.5" height="3.7" rx="1" fill="#fff"/>
<rect x="167.87" y="498.19" width="3.5" height="3.7" rx="1" fill="#fff"/>
<rect x="174.51" y="498.19" width="3.5" height="3.7" rx="1" fill="#fff"/>
<rect x="181.15" y="498.19" width="3.5" height="3.7" rx="1" fill="#fff"/>
<rect x="187.79" y="498.19" width="3.5" height="3.7" rx="1" fill="#fff"/>
<rect x="194.43" y="498.19" width="3.5" height="3.7" rx="1" fill="#fff"/>
<rect x="201.07" y="498.19" width="3.5" height="3.7" rx="1" fill="#fff"/>
<rect x="207.71" y="498.19" width="3.5" height="3.7" rx="1" fill="#fff"/>
<rect x="138.8" y="428.7" width="2.6" height="2.6" fill="#fff"/>
<rect x="138.8" y="473.7" width="2.6" height="2.6" fill="#fff"/>
<rect x="144.45" y="428.7" width="2.6" height="2.6" fill="#fff"/>
<rect x="144.45" y="473.7" width="2.6" height="2.6" fill="#fff"/>
<rect x="150.1" y="428.7" width="2.6" height="2.6" fill="#fff"/>
<rect x="150.1" y="473.7" width="2.6" height="2.6" fill="#fff"/>
<rect x="155.75" y="428.7" width="2.6" height="2.6" fill="#fff"/>
<rect x="155.75" y="473.7" width="2.6" height="2.6" fill="#fff"/>
<rect x="161.4" y="428.7" width="2.6" height="2.6" fill="#fff"/>
<rect x="161.4" y="473.7" width="2.6" height="2.6" fill="#fff"/>
<rect x="167.05" y="428.7" width="2.6" height="2.6" fill="#fff"/>
<rect x="167.05" y="473.7" width="2.6" height="2.6" fill="#fff"/>
<rect x="172.7" y="428.7" width="2.6" height="2.6" fill="#fff"/>
<rect x="172.7" y="473.7" width="2.6" height="2.6" fill="#fff"/>
<rect x="178.35" y="428.7" width="2.6" height="2.6" fill="#fff"/>
<rect x="178.35" y="473.7" width="2.6" height="2.6" fill="#fff"/>
<rect x="138.7" y="428.8" width="2.6" height="2.6" fill="#fff"/>
<rect x="183.2" y="428.8" width="2.6" height="2.6" fill="#fff"/>
<rect x="189" y="429.2" width="0.9" height="1.8" fill="#fff"/>
<rect x="138.7" y="434.45" width="2.6" height="2.6" fill="#fff"/>
<rect x="183.2" y="434.45" width="2.6" height="2.6" fill="#fff"/>
<rect x="189" y="434.85" width="0.9" height="1.8" fill="#fff"/>
<rect x="138.7" y="440.1" width="2.6" height="2.6" fill="#fff"/>
<rect x="183.2" y="440.1" width="2.6" height="2.6" fill="#fff"/>
<rect x="189" y="440.5" width="0.9" height="1.8" fill="#fff"/>
<rect x="138.7" y="445.75" width="2.6" height="2.6" fill="#fff"/>
<rect x="183.2" y="445.75" width="2.6" height="2.6" fill="#fff"/>
<rect x="189" y="446.15" width="0.9" height="1.8" fill="#fff"/>
<rect x="138.7" y="451.4" width="2.6" height="2.6" fill="#fff"/>
<rect x="183.2" y="451.4" width="2.6" height="2.6" fill="#fff"/>
<rect x="189" y="451.8" width="0.9" height="1.8" fill="#fff"/>
<rect x="138.7" y="457.05" width="2.6" height="2.6" fill="#fff"/>
<rect x="183.2" y="457.05" width="2.6" height="2.6" fill="#fff"/>
<rect x="189" y="457.45" width="0.9" height="1.8" fill="#fff"/>
<rect x="138.7" y="462.7" width="2.6" height="2.6" fill="#fff"/>
<rect x="183.2" y="462.7" width="2.6" height="2.6" fill="#fff"/>
<rect x="189" y="463.1" width="0.9" height="1.8" fill="#fff"/>
<rect x="138.7" y="468.35" width="2.6" height="2.6" fill="#fff"/>
<rect x="183.2" y="468.35" width="2.6" height="2.6" fill="#fff"/>
<rect x="189" y="468.75" width="0.9" height="1.8" fill="#fff"/>
<rect x="138.7" y="474" width="2.6" height="2.6" fill="#fff"/>
<rect x="183.2" y="474" width="2.6" height="2.6" fill="#fff"/>
<rect x="189" y="474.4" width="0.9" height="1.8" fill="#fff"/>
<rect x="144" y="435" width="37" height="36" fill="#fff"/>
<rect x="175" y="435.5" width="4.8" height="4" rx="1" fill="#000"/>
<rect x="147.2" y="443.1" width="31" height="17.9" rx="2.5" fill="#000"/>
<rect x="148.8" y="445.7" width="27.9" height="13.1" rx="1.2" fill="#fff"/>
<text transform="translate(149.60,456.7) scale(0.860,1)" font-size="12.5" fill="#000" letter-spacing="1.688">NPU</text>
<rect x="150" y="405" width="28.5" height="14" fill="#fff"/>
<text transform="translate(151.15,416.6) scale(0.860,1)" font-size="13" fill="#000" letter-spacing="1.684">CPU</text>
<rect x="305.5" y="353.5" width="225" height="18" fill="#fff" stroke="#000" stroke-width="1"/>
<rect x="304.5" y="359.5" width="8" height="7.5" fill="#fff" stroke="#000" stroke-width="1"/>
<rect x="312" y="354" width="4" height="16" fill="#000"/>
<polyline points="316,357.5 318.8,357.5 318.8,360.8 322.3,360.8 322.3,353.5" fill="none" stroke="#000" stroke-width="1"/>
<polyline points="322.3,358.8 325.5,358.8 325.5,367.5 316,367.5" fill="none" stroke="#000" stroke-width="1"/>
<rect x="519.3" y="353.5" width="3.5" height="16.4" fill="#000"/>
<rect x="523" y="360" width="8" height="1.1" fill="#000"/>
<rect x="523" y="367" width="8" height="1.1" fill="#000"/>
<polyline points="519.5,368 509.5,368 509.5,358.5 512,358.5" fill="none" stroke="#000" stroke-width="1"/>
<polyline points="511.7,353.5 511.7,360.7 516.8,360.7 516.8,358.3 519.5,358.3" fill="none" stroke="#000" stroke-width="1"/>
<rect x="330" y="355.3" width="175" height="13.5" fill="#000"/>
<rect x="333" y="362" width="4" height="6" fill="#fff"/>
<rect x="334" y="356.3" width="1" height="3.7" fill="#fff"/>
<rect x="339" y="362" width="4" height="6" fill="#fff"/>
<rect x="340" y="356.3" width="1" height="3.7" fill="#fff"/>
<rect x="345" y="362" width="4" height="6" fill="#fff"/>
<rect x="346" y="356.3" width="1" height="3.7" fill="#fff"/>
<rect x="351" y="362" width="4" height="6" fill="#fff"/>
<rect x="352" y="356.3" width="1" height="3.7" fill="#fff"/>
<rect x="357" y="362" width="4" height="6" fill="#fff"/>
<rect x="358" y="356.3" width="1" height="3.7" fill="#fff"/>
<rect x="362" y="362" width="4" height="6" fill="#fff"/>
<rect x="363" y="356.3" width="1" height="3.7" fill="#fff"/>
<rect x="363" y="359" width="2" height="3.2" fill="#fff"/>
<rect x="368" y="362" width="4" height="6" fill="#fff"/>
<rect x="369" y="356.3" width="1" height="3.7" fill="#fff"/>
<rect x="369" y="359" width="2" height="3.2" fill="#fff"/>
<rect x="374" y="362" width="4" height="6" fill="#fff"/>
<rect x="375" y="356.3" width="1" height="3.7" fill="#fff"/>
<rect x="380" y="362" width="4" height="6" fill="#fff"/>
<rect x="381" y="356.3" width="1" height="3.7" fill="#fff"/>
<rect x="386" y="362" width="4" height="6" fill="#fff"/>
<rect x="387" y="356.3" width="1" height="3.7" fill="#fff"/>
<rect x="392" y="362" width="4" height="6" fill="#fff"/>
<rect x="393" y="356.3" width="1" height="3.7" fill="#fff"/>
<rect x="398" y="362" width="4" height="6" fill="#fff"/>
<rect x="399" y="356.3" width="1" height="3.7" fill="#fff"/>
<rect x="404" y="362" width="4" height="6" fill="#fff"/>
<rect x="405" y="356.3" width="1" height="3.7" fill="#fff"/>
<rect x="410" y="362" width="4" height="6" fill="#fff"/>
<rect x="411" y="356.3" width="1" height="3.7" fill="#fff"/>
<rect x="416" y="362" width="4" height="6" fill="#fff"/>
<rect x="417" y="356.3" width="1" height="3.7" fill="#fff"/>
<rect x="422" y="362" width="4" height="6" fill="#fff"/>
<rect x="423" y="356.3" width="1" height="3.7" fill="#fff"/>
<rect x="427" y="362" width="4" height="6" fill="#fff"/>
<rect x="428" y="356.3" width="1" height="3.7" fill="#fff"/>
<rect x="433" y="362" width="4" height="6" fill="#fff"/>
<rect x="434" y="356.3" width="1" height="3.7" fill="#fff"/>
<rect x="439" y="362" width="4" height="6" fill="#fff"/>
<rect x="440" y="356.3" width="1" height="3.7" fill="#fff"/>
<rect x="445" y="362" width="4" height="6" fill="#fff"/>
<rect x="446" y="356.3" width="1" height="3.7" fill="#fff"/>
<rect x="451" y="362" width="4" height="6" fill="#fff"/>
<rect x="452" y="356.3" width="1" height="3.7" fill="#fff"/>
<rect x="457" y="362" width="4" height="6" fill="#fff"/>
<rect x="458" y="356.3" width="1" height="3.7" fill="#fff"/>
<rect x="463" y="362" width="4" height="6" fill="#fff"/>
<rect x="464" y="356.3" width="1" height="3.7" fill="#fff"/>
<rect x="469" y="362" width="4" height="6" fill="#fff"/>
<rect x="470" y="356.3" width="1" height="3.7" fill="#fff"/>
<rect x="475" y="362" width="4" height="6" fill="#fff"/>
<rect x="476" y="356.3" width="1" height="3.7" fill="#fff"/>
<rect x="480" y="362" width="4" height="6" fill="#fff"/>
<rect x="481" y="356.3" width="1" height="3.7" fill="#fff"/>
<rect x="486" y="362" width="4" height="6" fill="#fff"/>
<rect x="487" y="356.3" width="1" height="3.7" fill="#fff"/>
<rect x="492" y="362" width="4" height="6" fill="#fff"/>
<rect x="493" y="356.3" width="1" height="3.7" fill="#fff"/>
<rect x="498" y="362" width="4" height="6" fill="#fff"/>
<rect x="499" y="356.3" width="1" height="3.7" fill="#fff"/>
<rect x="305.5" y="373.5" width="225" height="18" fill="#fff" stroke="#000" stroke-width="1"/>
<rect x="304.5" y="379.5" width="8" height="7.5" fill="#fff" stroke="#000" stroke-width="1"/>
<rect x="312" y="374" width="4" height="16" fill="#000"/>
<polyline points="316,377.5 318.8,377.5 318.8,380.8 322.3,380.8 322.3,373.5" fill="none" stroke="#000" stroke-width="1"/>
<polyline points="322.3,378.8 325.5,378.8 325.5,387.5 316,387.5" fill="none" stroke="#000" stroke-width="1"/>
<rect x="519.3" y="373.5" width="3.5" height="16.4" fill="#000"/>
<rect x="523" y="380" width="8" height="1.1" fill="#000"/>
<rect x="523" y="387" width="8" height="1.1" fill="#000"/>
<polyline points="519.5,388 509.5,388 509.5,378.5 512,378.5" fill="none" stroke="#000" stroke-width="1"/>
<polyline points="511.7,373.5 511.7,380.7 516.8,380.7 516.8,378.3 519.5,378.3" fill="none" stroke="#000" stroke-width="1"/>
<rect x="330" y="375.3" width="175" height="13.5" fill="#000"/>
<rect x="333" y="382" width="4" height="6" fill="#fff"/>
<rect x="334" y="376.3" width="1" height="3.7" fill="#fff"/>
<rect x="339" y="382" width="4" height="6" fill="#fff"/>
<rect x="340" y="376.3" width="1" height="3.7" fill="#fff"/>
<rect x="345" y="382" width="4" height="6" fill="#fff"/>
<rect x="346" y="376.3" width="1" height="3.7" fill="#fff"/>
<rect x="351" y="382" width="4" height="6" fill="#fff"/>
<rect x="352" y="376.3" width="1" height="3.7" fill="#fff"/>
<rect x="357" y="382" width="4" height="6" fill="#fff"/>
<rect x="358" y="376.3" width="1" height="3.7" fill="#fff"/>
<rect x="362" y="382" width="4" height="6" fill="#fff"/>
<rect x="363" y="376.3" width="1" height="3.7" fill="#fff"/>
<rect x="363" y="379" width="2" height="3.2" fill="#fff"/>
<rect x="368" y="382" width="4" height="6" fill="#fff"/>
<rect x="369" y="376.3" width="1" height="3.7" fill="#fff"/>
<rect x="369" y="379" width="2" height="3.2" fill="#fff"/>
<rect x="374" y="382" width="4" height="6" fill="#fff"/>
<rect x="375" y="376.3" width="1" height="3.7" fill="#fff"/>
<rect x="380" y="382" width="4" height="6" fill="#fff"/>
<rect x="381" y="376.3" width="1" height="3.7" fill="#fff"/>
<rect x="386" y="382" width="4" height="6" fill="#fff"/>
<rect x="387" y="376.3" width="1" height="3.7" fill="#fff"/>
<rect x="392" y="382" width="4" height="6" fill="#fff"/>
<rect x="393" y="376.3" width="1" height="3.7" fill="#fff"/>
<rect x="398" y="382" width="4" height="6" fill="#fff"/>
<rect x="399" y="376.3" width="1" height="3.7" fill="#fff"/>
<rect x="404" y="382" width="4" height="6" fill="#fff"/>
<rect x="405" y="376.3" width="1" height="3.7" fill="#fff"/>
<rect x="410" y="382" width="4" height="6" fill="#fff"/>
<rect x="411" y="376.3" width="1" height="3.7" fill="#fff"/>
<rect x="416" y="382" width="4" height="6" fill="#fff"/>
<rect x="417" y="376.3" width="1" height="3.7" fill="#fff"/>
<rect x="422" y="382" width="4" height="6" fill="#fff"/>
<rect x="423" y="376.3" width="1" height="3.7" fill="#fff"/>
<rect x="427" y="382" width="4" height="6" fill="#fff"/>
<rect x="428" y="376.3" width="1" height="3.7" fill="#fff"/>
<rect x="433" y="382" width="4" height="6" fill="#fff"/>
<rect x="434" y="376.3" width="1" height="3.7" fill="#fff"/>
<rect x="439" y="382" width="4" height="6" fill="#fff"/>
<rect x="440" y="376.3" width="1" height="3.7" fill="#fff"/>
<rect x="445" y="382" width="4" height="6" fill="#fff"/>
<rect x="446" y="376.3" width="1" height="3.7" fill="#fff"/>
<rect x="451" y="382" width="4" height="6" fill="#fff"/>
<rect x="452" y="376.3" width="1" height="3.7" fill="#fff"/>
<rect x="457" y="382" width="4" height="6" fill="#fff"/>
<rect x="458" y="376.3" width="1" height="3.7" fill="#fff"/>
<rect x="463" y="382" width="4" height="6" fill="#fff"/>
<rect x="464" y="376.3" width="1" height="3.7" fill="#fff"/>
<rect x="469" y="382" width="4" height="6" fill="#fff"/>
<rect x="470" y="376.3" width="1" height="3.7" fill="#fff"/>
<rect x="475" y="382" width="4" height="6" fill="#fff"/>
<rect x="476" y="376.3" width="1" height="3.7" fill="#fff"/>
<rect x="480" y="382" width="4" height="6" fill="#fff"/>
<rect x="481" y="376.3" width="1" height="3.7" fill="#fff"/>
<rect x="486" y="382" width="4" height="6" fill="#fff"/>
<rect x="487" y="376.3" width="1" height="3.7" fill="#fff"/>
<rect x="492" y="382" width="4" height="6" fill="#fff"/>
<rect x="493" y="376.3" width="1" height="3.7" fill="#fff"/>
<rect x="498" y="382" width="4" height="6" fill="#fff"/>
<rect x="499" y="376.3" width="1" height="3.7" fill="#fff"/>
<rect x="305.5" y="393.5" width="225" height="18" fill="#fff" stroke="#000" stroke-width="1"/>
<rect x="304.5" y="399.5" width="8" height="7.5" fill="#fff" stroke="#000" stroke-width="1"/>
<rect x="312" y="394" width="4" height="16" fill="#000"/>
<polyline points="316,397.5 318.8,397.5 318.8,400.8 322.3,400.8 322.3,393.5" fill="none" stroke="#000" stroke-width="1"/>
<polyline points="322.3,398.8 325.5,398.8 325.5,407.5 316,407.5" fill="none" stroke="#000" stroke-width="1"/>
<rect x="519.3" y="393.5" width="3.5" height="16.4" fill="#000"/>
<rect x="523" y="400" width="8" height="1.1" fill="#000"/>
<rect x="523" y="407" width="8" height="1.1" fill="#000"/>
<polyline points="519.5,408 509.5,408 509.5,398.5 512,398.5" fill="none" stroke="#000" stroke-width="1"/>
<polyline points="511.7,393.5 511.7,400.7 516.8,400.7 516.8,398.3 519.5,398.3" fill="none" stroke="#000" stroke-width="1"/>
<rect x="330" y="395.3" width="175" height="13.5" fill="#000"/>
<rect x="333" y="402" width="4" height="6" fill="#fff"/>
<rect x="334" y="396.3" width="1" height="3.7" fill="#fff"/>
<rect x="339" y="402" width="4" height="6" fill="#fff"/>
<rect x="340" y="396.3" width="1" height="3.7" fill="#fff"/>
<rect x="345" y="402" width="4" height="6" fill="#fff"/>
<rect x="346" y="396.3" width="1" height="3.7" fill="#fff"/>
<rect x="351" y="402" width="4" height="6" fill="#fff"/>
<rect x="352" y="396.3" width="1" height="3.7" fill="#fff"/>
<rect x="357" y="402" width="4" height="6" fill="#fff"/>
<rect x="358" y="396.3" width="1" height="3.7" fill="#fff"/>
<rect x="362" y="402" width="4" height="6" fill="#fff"/>
<rect x="363" y="396.3" width="1" height="3.7" fill="#fff"/>
<rect x="363" y="399" width="2" height="3.2" fill="#fff"/>
<rect x="368" y="402" width="4" height="6" fill="#fff"/>
<rect x="369" y="396.3" width="1" height="3.7" fill="#fff"/>
<rect x="369" y="399" width="2" height="3.2" fill="#fff"/>
<rect x="374" y="402" width="4" height="6" fill="#fff"/>
<rect x="375" y="396.3" width="1" height="3.7" fill="#fff"/>
<rect x="380" y="402" width="4" height="6" fill="#fff"/>
<rect x="381" y="396.3" width="1" height="3.7" fill="#fff"/>
<rect x="386" y="402" width="4" height="6" fill="#fff"/>
<rect x="387" y="396.3" width="1" height="3.7" fill="#fff"/>
<rect x="392" y="402" width="4" height="6" fill="#fff"/>
<rect x="393" y="396.3" width="1" height="3.7" fill="#fff"/>
<rect x="398" y="402" width="4" height="6" fill="#fff"/>
<rect x="399" y="396.3" width="1" height="3.7" fill="#fff"/>
<rect x="404" y="402" width="4" height="6" fill="#fff"/>
<rect x="405" y="396.3" width="1" height="3.7" fill="#fff"/>
<rect x="410" y="402" width="4" height="6" fill="#fff"/>
<rect x="411" y="396.3" width="1" height="3.7" fill="#fff"/>
<rect x="416" y="402" width="4" height="6" fill="#fff"/>
<rect x="417" y="396.3" width="1" height="3.7" fill="#fff"/>
<rect x="422" y="402" width="4" height="6" fill="#fff"/>
<rect x="423" y="396.3" width="1" height="3.7" fill="#fff"/>
<rect x="427" y="402" width="4" height="6" fill="#fff"/>
<rect x="428" y="396.3" width="1" height="3.7" fill="#fff"/>
<rect x="433" y="402" width="4" height="6" fill="#fff"/>
<rect x="434" y="396.3" width="1" height="3.7" fill="#fff"/>
<rect x="439" y="402" width="4" height="6" fill="#fff"/>
<rect x="440" y="396.3" width="1" height="3.7" fill="#fff"/>
<rect x="445" y="402" width="4" height="6" fill="#fff"/>
<rect x="446" y="396.3" width="1" height="3.7" fill="#fff"/>
<rect x="451" y="402" width="4" height="6" fill="#fff"/>
<rect x="452" y="396.3" width="1" height="3.7" fill="#fff"/>
<rect x="457" y="402" width="4" height="6" fill="#fff"/>
<rect x="458" y="396.3" width="1" height="3.7" fill="#fff"/>
<rect x="463" y="402" width="4" height="6" fill="#fff"/>
<rect x="464" y="396.3" width="1" height="3.7" fill="#fff"/>
<rect x="469" y="402" width="4" height="6" fill="#fff"/>
<rect x="470" y="396.3" width="1" height="3.7" fill="#fff"/>
<rect x="475" y="402" width="4" height="6" fill="#fff"/>
<rect x="476" y="396.3" width="1" height="3.7" fill="#fff"/>
<rect x="480" y="402" width="4" height="6" fill="#fff"/>
<rect x="481" y="396.3" width="1" height="3.7" fill="#fff"/>
<rect x="486" y="402" width="4" height="6" fill="#fff"/>
<rect x="487" y="396.3" width="1" height="3.7" fill="#fff"/>
<rect x="492" y="402" width="4" height="6" fill="#fff"/>
<rect x="493" y="396.3" width="1" height="3.7" fill="#fff"/>
<rect x="498" y="402" width="4" height="6" fill="#fff"/>
<rect x="499" y="396.3" width="1" height="3.7" fill="#fff"/>
<rect x="305.5" y="413.5" width="225" height="18" fill="#fff" stroke="#000" stroke-width="1"/>
<rect x="304.5" y="419.5" width="8" height="7.5" fill="#fff" stroke="#000" stroke-width="1"/>
<rect x="312" y="414" width="4" height="16" fill="#000"/>
<polyline points="316,417.5 318.8,417.5 318.8,420.8 322.3,420.8 322.3,413.5" fill="none" stroke="#000" stroke-width="1"/>
<polyline points="322.3,418.8 325.5,418.8 325.5,427.5 316,427.5" fill="none" stroke="#000" stroke-width="1"/>
<rect x="519.3" y="413.5" width="3.5" height="16.4" fill="#000"/>
<rect x="523" y="420" width="8" height="1.1" fill="#000"/>
<rect x="523" y="427" width="8" height="1.1" fill="#000"/>
<polyline points="519.5,428 509.5,428 509.5,418.5 512,418.5" fill="none" stroke="#000" stroke-width="1"/>
<polyline points="511.7,413.5 511.7,420.7 516.8,420.7 516.8,418.3 519.5,418.3" fill="none" stroke="#000" stroke-width="1"/>
<rect x="330" y="415.3" width="175" height="13.5" fill="#000"/>
<rect x="333" y="422" width="4" height="6" fill="#fff"/>
<rect x="334" y="416.3" width="1" height="3.7" fill="#fff"/>
<rect x="339" y="422" width="4" height="6" fill="#fff"/>
<rect x="340" y="416.3" width="1" height="3.7" fill="#fff"/>
<rect x="345" y="422" width="4" height="6" fill="#fff"/>
<rect x="346" y="416.3" width="1" height="3.7" fill="#fff"/>
<rect x="351" y="422" width="4" height="6" fill="#fff"/>
<rect x="352" y="416.3" width="1" height="3.7" fill="#fff"/>
<rect x="357" y="422" width="4" height="6" fill="#fff"/>
<rect x="358" y="416.3" width="1" height="3.7" fill="#fff"/>
<rect x="362" y="422" width="4" height="6" fill="#fff"/>
<rect x="363" y="416.3" width="1" height="3.7" fill="#fff"/>
<rect x="363" y="419" width="2" height="3.2" fill="#fff"/>
<rect x="368" y="422" width="4" height="6" fill="#fff"/>
<rect x="369" y="416.3" width="1" height="3.7" fill="#fff"/>
<rect x="369" y="419" width="2" height="3.2" fill="#fff"/>
<rect x="374" y="422" width="4" height="6" fill="#fff"/>
<rect x="375" y="416.3" width="1" height="3.7" fill="#fff"/>
<rect x="380" y="422" width="4" height="6" fill="#fff"/>
<rect x="381" y="416.3" width="1" height="3.7" fill="#fff"/>
<rect x="386" y="422" width="4" height="6" fill="#fff"/>
<rect x="387" y="416.3" width="1" height="3.7" fill="#fff"/>
<rect x="392" y="422" width="4" height="6" fill="#fff"/>
<rect x="393" y="416.3" width="1" height="3.7" fill="#fff"/>
<rect x="398" y="422" width="4" height="6" fill="#fff"/>
<rect x="399" y="416.3" width="1" height="3.7" fill="#fff"/>
<rect x="404" y="422" width="4" height="6" fill="#fff"/>
<rect x="405" y="416.3" width="1" height="3.7" fill="#fff"/>
<rect x="410" y="422" width="4" height="6" fill="#fff"/>
<rect x="411" y="416.3" width="1" height="3.7" fill="#fff"/>
<rect x="416" y="422" width="4" height="6" fill="#fff"/>
<rect x="417" y="416.3" width="1" height="3.7" fill="#fff"/>
<rect x="422" y="422" width="4" height="6" fill="#fff"/>
<rect x="423" y="416.3" width="1" height="3.7" fill="#fff"/>
<rect x="427" y="422" width="4" height="6" fill="#fff"/>
<rect x="428" y="416.3" width="1" height="3.7" fill="#fff"/>
<rect x="433" y="422" width="4" height="6" fill="#fff"/>
<rect x="434" y="416.3" width="1" height="3.7" fill="#fff"/>
<rect x="439" y="422" width="4" height="6" fill="#fff"/>
<rect x="440" y="416.3" width="1" height="3.7" fill="#fff"/>
<rect x="445" y="422" width="4" height="6" fill="#fff"/>
<rect x="446" y="416.3" width="1" height="3.7" fill="#fff"/>
<rect x="451" y="422" width="4" height="6" fill="#fff"/>
<rect x="452" y="416.3" width="1" height="3.7" fill="#fff"/>
<rect x="457" y="422" width="4" height="6" fill="#fff"/>
<rect x="458" y="416.3" width="1" height="3.7" fill="#fff"/>
<rect x="463" y="422" width="4" height="6" fill="#fff"/>
<rect x="464" y="416.3" width="1" height="3.7" fill="#fff"/>
<rect x="469" y="422" width="4" height="6" fill="#fff"/>
<rect x="470" y="416.3" width="1" height="3.7" fill="#fff"/>
<rect x="475" y="422" width="4" height="6" fill="#fff"/>
<rect x="476" y="416.3" width="1" height="3.7" fill="#fff"/>
<rect x="480" y="422" width="4" height="6" fill="#fff"/>
<rect x="481" y="416.3" width="1" height="3.7" fill="#fff"/>
<rect x="486" y="422" width="4" height="6" fill="#fff"/>
<rect x="487" y="416.3" width="1" height="3.7" fill="#fff"/>
<rect x="492" y="422" width="4" height="6" fill="#fff"/>
<rect x="493" y="416.3" width="1" height="3.7" fill="#fff"/>
<rect x="498" y="422" width="4" height="6" fill="#fff"/>
<rect x="499" y="416.3" width="1" height="3.7" fill="#fff"/>
<rect x="305.5" y="433.5" width="225" height="18" fill="#fff" stroke="#000" stroke-width="1"/>
<rect x="304.5" y="439.5" width="8" height="7.5" fill="#fff" stroke="#000" stroke-width="1"/>
<rect x="312" y="434" width="4" height="16" fill="#000"/>
<polyline points="316,437.5 318.8,437.5 318.8,440.8 322.3,440.8 322.3,433.5" fill="none" stroke="#000" stroke-width="1"/>
<polyline points="322.3,438.8 325.5,438.8 325.5,447.5 316,447.5" fill="none" stroke="#000" stroke-width="1"/>
<rect x="519.3" y="433.5" width="3.5" height="16.4" fill="#000"/>
<rect x="523" y="440" width="8" height="1.1" fill="#000"/>
<rect x="523" y="447" width="8" height="1.1" fill="#000"/>
<polyline points="519.5,448 509.5,448 509.5,438.5 512,438.5" fill="none" stroke="#000" stroke-width="1"/>
<polyline points="511.7,433.5 511.7,440.7 516.8,440.7 516.8,438.3 519.5,438.3" fill="none" stroke="#000" stroke-width="1"/>
<rect x="330" y="435.3" width="175" height="13.5" fill="#000"/>
<rect x="333" y="442" width="4" height="6" fill="#fff"/>
<rect x="334" y="436.3" width="1" height="3.7" fill="#fff"/>
<rect x="339" y="442" width="4" height="6" fill="#fff"/>
<rect x="340" y="436.3" width="1" height="3.7" fill="#fff"/>
<rect x="345" y="442" width="4" height="6" fill="#fff"/>
<rect x="346" y="436.3" width="1" height="3.7" fill="#fff"/>
<rect x="351" y="442" width="4" height="6" fill="#fff"/>
<rect x="352" y="436.3" width="1" height="3.7" fill="#fff"/>
<rect x="357" y="442" width="4" height="6" fill="#fff"/>
<rect x="358" y="436.3" width="1" height="3.7" fill="#fff"/>
<rect x="362" y="442" width="4" height="6" fill="#fff"/>
<rect x="363" y="436.3" width="1" height="3.7" fill="#fff"/>
<rect x="363" y="439" width="2" height="3.2" fill="#fff"/>
<rect x="368" y="442" width="4" height="6" fill="#fff"/>
<rect x="369" y="436.3" width="1" height="3.7" fill="#fff"/>
<rect x="369" y="439" width="2" height="3.2" fill="#fff"/>
<rect x="374" y="442" width="4" height="6" fill="#fff"/>
<rect x="375" y="436.3" width="1" height="3.7" fill="#fff"/>
<rect x="380" y="442" width="4" height="6" fill="#fff"/>
<rect x="381" y="436.3" width="1" height="3.7" fill="#fff"/>
<rect x="386" y="442" width="4" height="6" fill="#fff"/>
<rect x="387" y="436.3" width="1" height="3.7" fill="#fff"/>
<rect x="392" y="442" width="4" height="6" fill="#fff"/>
<rect x="393" y="436.3" width="1" height="3.7" fill="#fff"/>
<rect x="398" y="442" width="4" height="6" fill="#fff"/>
<rect x="399" y="436.3" width="1" height="3.7" fill="#fff"/>
<rect x="404" y="442" width="4" height="6" fill="#fff"/>
<rect x="405" y="436.3" width="1" height="3.7" fill="#fff"/>
<rect x="410" y="442" width="4" height="6" fill="#fff"/>
<rect x="411" y="436.3" width="1" height="3.7" fill="#fff"/>
<rect x="416" y="442" width="4" height="6" fill="#fff"/>
<rect x="417" y="436.3" width="1" height="3.7" fill="#fff"/>
<rect x="422" y="442" width="4" height="6" fill="#fff"/>
<rect x="423" y="436.3" width="1" height="3.7" fill="#fff"/>
<rect x="427" y="442" width="4" height="6" fill="#fff"/>
<rect x="428" y="436.3" width="1" height="3.7" fill="#fff"/>
<rect x="433" y="442" width="4" height="6" fill="#fff"/>
<rect x="434" y="436.3" width="1" height="3.7" fill="#fff"/>
<rect x="439" y="442" width="4" height="6" fill="#fff"/>
<rect x="440" y="436.3" width="1" height="3.7" fill="#fff"/>
<rect x="445" y="442" width="4" height="6" fill="#fff"/>
<rect x="446" y="436.3" width="1" height="3.7" fill="#fff"/>
<rect x="451" y="442" width="4" height="6" fill="#fff"/>
<rect x="452" y="436.3" width="1" height="3.7" fill="#fff"/>
<rect x="457" y="442" width="4" height="6" fill="#fff"/>
<rect x="458" y="436.3" width="1" height="3.7" fill="#fff"/>
<rect x="463" y="442" width="4" height="6" fill="#fff"/>
<rect x="464" y="436.3" width="1" height="3.7" fill="#fff"/>
<rect x="469" y="442" width="4" height="6" fill="#fff"/>
<rect x="470" y="436.3" width="1" height="3.7" fill="#fff"/>
<rect x="475" y="442" width="4" height="6" fill="#fff"/>
<rect x="476" y="436.3" width="1" height="3.7" fill="#fff"/>
<rect x="480" y="442" width="4" height="6" fill="#fff"/>
<rect x="481" y="436.3" width="1" height="3.7" fill="#fff"/>
<rect x="486" y="442" width="4" height="6" fill="#fff"/>
<rect x="487" y="436.3" width="1" height="3.7" fill="#fff"/>
<rect x="492" y="442" width="4" height="6" fill="#fff"/>
<rect x="493" y="436.3" width="1" height="3.7" fill="#fff"/>
<rect x="498" y="442" width="4" height="6" fill="#fff"/>
<rect x="499" y="436.3" width="1" height="3.7" fill="#fff"/>
<rect x="305.5" y="454.5" width="225" height="18" fill="#fff" stroke="#000" stroke-width="1"/>
<rect x="304.5" y="460.5" width="8" height="7.5" fill="#fff" stroke="#000" stroke-width="1"/>
<rect x="312" y="455" width="4" height="16" fill="#000"/>
<polyline points="316,458.5 318.8,458.5 318.8,461.8 322.3,461.8 322.3,454.5" fill="none" stroke="#000" stroke-width="1"/>
<polyline points="322.3,459.8 325.5,459.8 325.5,468.5 316,468.5" fill="none" stroke="#000" stroke-width="1"/>
<rect x="519.3" y="454.5" width="3.5" height="16.4" fill="#000"/>
<rect x="523" y="461" width="8" height="1.1" fill="#000"/>
<rect x="523" y="468" width="8" height="1.1" fill="#000"/>
<polyline points="519.5,469 509.5,469 509.5,459.5 512,459.5" fill="none" stroke="#000" stroke-width="1"/>
<polyline points="511.7,454.5 511.7,461.7 516.8,461.7 516.8,459.3 519.5,459.3" fill="none" stroke="#000" stroke-width="1"/>
<rect x="330" y="456.3" width="175" height="13.5" fill="#000"/>
<rect x="333" y="463" width="4" height="6" fill="#fff"/>
<rect x="334" y="457.3" width="1" height="3.7" fill="#fff"/>
<rect x="339" y="463" width="4" height="6" fill="#fff"/>
<rect x="340" y="457.3" width="1" height="3.7" fill="#fff"/>
<rect x="345" y="463" width="4" height="6" fill="#fff"/>
<rect x="346" y="457.3" width="1" height="3.7" fill="#fff"/>
<rect x="351" y="463" width="4" height="6" fill="#fff"/>
<rect x="352" y="457.3" width="1" height="3.7" fill="#fff"/>
<rect x="357" y="463" width="4" height="6" fill="#fff"/>
<rect x="358" y="457.3" width="1" height="3.7" fill="#fff"/>
<rect x="362" y="463" width="4" height="6" fill="#fff"/>
<rect x="363" y="457.3" width="1" height="3.7" fill="#fff"/>
<rect x="363" y="460" width="2" height="3.2" fill="#fff"/>
<rect x="368" y="463" width="4" height="6" fill="#fff"/>
<rect x="369" y="457.3" width="1" height="3.7" fill="#fff"/>
<rect x="369" y="460" width="2" height="3.2" fill="#fff"/>
<rect x="374" y="463" width="4" height="6" fill="#fff"/>
<rect x="375" y="457.3" width="1" height="3.7" fill="#fff"/>
<rect x="380" y="463" width="4" height="6" fill="#fff"/>
<rect x="381" y="457.3" width="1" height="3.7" fill="#fff"/>
<rect x="386" y="463" width="4" height="6" fill="#fff"/>
<rect x="387" y="457.3" width="1" height="3.7" fill="#fff"/>
<rect x="392" y="463" width="4" height="6" fill="#fff"/>
<rect x="393" y="457.3" width="1" height="3.7" fill="#fff"/>
<rect x="398" y="463" width="4" height="6" fill="#fff"/>
<rect x="399" y="457.3" width="1" height="3.7" fill="#fff"/>
<rect x="404" y="463" width="4" height="6" fill="#fff"/>
<rect x="405" y="457.3" width="1" height="3.7" fill="#fff"/>
<rect x="410" y="463" width="4" height="6" fill="#fff"/>
<rect x="411" y="457.3" width="1" height="3.7" fill="#fff"/>
<rect x="416" y="463" width="4" height="6" fill="#fff"/>
<rect x="417" y="457.3" width="1" height="3.7" fill="#fff"/>
<rect x="422" y="463" width="4" height="6" fill="#fff"/>
<rect x="423" y="457.3" width="1" height="3.7" fill="#fff"/>
<rect x="427" y="463" width="4" height="6" fill="#fff"/>
<rect x="428" y="457.3" width="1" height="3.7" fill="#fff"/>
<rect x="433" y="463" width="4" height="6" fill="#fff"/>
<rect x="434" y="457.3" width="1" height="3.7" fill="#fff"/>
<rect x="439" y="463" width="4" height="6" fill="#fff"/>
<rect x="440" y="457.3" width="1" height="3.7" fill="#fff"/>
<rect x="445" y="463" width="4" height="6" fill="#fff"/>
<rect x="446" y="457.3" width="1" height="3.7" fill="#fff"/>
<rect x="451" y="463" width="4" height="6" fill="#fff"/>
<rect x="452" y="457.3" width="1" height="3.7" fill="#fff"/>
<rect x="457" y="463" width="4" height="6" fill="#fff"/>
<rect x="458" y="457.3" width="1" height="3.7" fill="#fff"/>
<rect x="463" y="463" width="4" height="6" fill="#fff"/>
<rect x="464" y="457.3" width="1" height="3.7" fill="#fff"/>
<rect x="469" y="463" width="4" height="6" fill="#fff"/>
<rect x="470" y="457.3" width="1" height="3.7" fill="#fff"/>
<rect x="475" y="463" width="4" height="6" fill="#fff"/>
<rect x="476" y="457.3" width="1" height="3.7" fill="#fff"/>
<rect x="480" y="463" width="4" height="6" fill="#fff"/>
<rect x="481" y="457.3" width="1" height="3.7" fill="#fff"/>
<rect x="486" y="463" width="4" height="6" fill="#fff"/>
<rect x="487" y="457.3" width="1" height="3.7" fill="#fff"/>
<rect x="492" y="463" width="4" height="6" fill="#fff"/>
<rect x="493" y="457.3" width="1" height="3.7" fill="#fff"/>
<rect x="498" y="463" width="4" height="6" fill="#fff"/>
<rect x="499" y="457.3" width="1" height="3.7" fill="#fff"/>
<rect x="305.5" y="474.5" width="225" height="18" fill="#fff" stroke="#000" stroke-width="1"/>
<rect x="304.5" y="480.5" width="8" height="7.5" fill="#fff" stroke="#000" stroke-width="1"/>
<rect x="312" y="475" width="4" height="16" fill="#000"/>
<polyline points="316,478.5 318.8,478.5 318.8,481.8 322.3,481.8 322.3,474.5" fill="none" stroke="#000" stroke-width="1"/>
<polyline points="322.3,479.8 325.5,479.8 325.5,488.5 316,488.5" fill="none" stroke="#000" stroke-width="1"/>
<rect x="519.3" y="474.5" width="3.5" height="16.4" fill="#000"/>
<rect x="523" y="481" width="8" height="1.1" fill="#000"/>
<rect x="523" y="488" width="8" height="1.1" fill="#000"/>
<polyline points="519.5,489 509.5,489 509.5,479.5 512,479.5" fill="none" stroke="#000" stroke-width="1"/>
<polyline points="511.7,474.5 511.7,481.7 516.8,481.7 516.8,479.3 519.5,479.3" fill="none" stroke="#000" stroke-width="1"/>
<rect x="330" y="476.3" width="175" height="13.5" fill="#000"/>
<rect x="333" y="483" width="4" height="6" fill="#fff"/>
<rect x="334" y="477.3" width="1" height="3.7" fill="#fff"/>
<rect x="339" y="483" width="4" height="6" fill="#fff"/>
<rect x="340" y="477.3" width="1" height="3.7" fill="#fff"/>
<rect x="345" y="483" width="4" height="6" fill="#fff"/>
<rect x="346" y="477.3" width="1" height="3.7" fill="#fff"/>
<rect x="351" y="483" width="4" height="6" fill="#fff"/>
<rect x="352" y="477.3" width="1" height="3.7" fill="#fff"/>
<rect x="357" y="483" width="4" height="6" fill="#fff"/>
<rect x="358" y="477.3" width="1" height="3.7" fill="#fff"/>
<rect x="362" y="483" width="4" height="6" fill="#fff"/>
<rect x="363" y="477.3" width="1" height="3.7" fill="#fff"/>
<rect x="363" y="480" width="2" height="3.2" fill="#fff"/>
<rect x="368" y="483" width="4" height="6" fill="#fff"/>
<rect x="369" y="477.3" width="1" height="3.7" fill="#fff"/>
<rect x="369" y="480" width="2" height="3.2" fill="#fff"/>
<rect x="374" y="483" width="4" height="6" fill="#fff"/>
<rect x="375" y="477.3" width="1" height="3.7" fill="#fff"/>
<rect x="380" y="483" width="4" height="6" fill="#fff"/>
<rect x="381" y="477.3" width="1" height="3.7" fill="#fff"/>
<rect x="386" y="483" width="4" height="6" fill="#fff"/>
<rect x="387" y="477.3" width="1" height="3.7" fill="#fff"/>
<rect x="392" y="483" width="4" height="6" fill="#fff"/>
<rect x="393" y="477.3" width="1" height="3.7" fill="#fff"/>
<rect x="398" y="483" width="4" height="6" fill="#fff"/>
<rect x="399" y="477.3" width="1" height="3.7" fill="#fff"/>
<rect x="404" y="483" width="4" height="6" fill="#fff"/>
<rect x="405" y="477.3" width="1" height="3.7" fill="#fff"/>
<rect x="410" y="483" width="4" height="6" fill="#fff"/>
<rect x="411" y="477.3" width="1" height="3.7" fill="#fff"/>
<rect x="416" y="483" width="4" height="6" fill="#fff"/>
<rect x="417" y="477.3" width="1" height="3.7" fill="#fff"/>
<rect x="422" y="483" width="4" height="6" fill="#fff"/>
<rect x="423" y="477.3" width="1" height="3.7" fill="#fff"/>
<rect x="427" y="483" width="4" height="6" fill="#fff"/>
<rect x="428" y="477.3" width="1" height="3.7" fill="#fff"/>
<rect x="433" y="483" width="4" height="6" fill="#fff"/>
<rect x="434" y="477.3" width="1" height="3.7" fill="#fff"/>
<rect x="439" y="483" width="4" height="6" fill="#fff"/>
<rect x="440" y="477.3" width="1" height="3.7" fill="#fff"/>
<rect x="445" y="483" width="4" height="6" fill="#fff"/>
<rect x="446" y="477.3" width="1" height="3.7" fill="#fff"/>
<rect x="451" y="483" width="4" height="6" fill="#fff"/>
<rect x="452" y="477.3" width="1" height="3.7" fill="#fff"/>
<rect x="457" y="483" width="4" height="6" fill="#fff"/>
<rect x="458" y="477.3" width="1" height="3.7" fill="#fff"/>
<rect x="463" y="483" width="4" height="6" fill="#fff"/>
<rect x="464" y="477.3" width="1" height="3.7" fill="#fff"/>
<rect x="469" y="483" width="4" height="6" fill="#fff"/>
<rect x="470" y="477.3" width="1" height="3.7" fill="#fff"/>
<rect x="475" y="483" width="4" height="6" fill="#fff"/>
<rect x="476" y="477.3" width="1" height="3.7" fill="#fff"/>
<rect x="480" y="483" width="4" height="6" fill="#fff"/>
<rect x="481" y="477.3" width="1" height="3.7" fill="#fff"/>
<rect x="486" y="483" width="4" height="6" fill="#fff"/>
<rect x="487" y="477.3" width="1" height="3.7" fill="#fff"/>
<rect x="492" y="483" width="4" height="6" fill="#fff"/>
<rect x="493" y="477.3" width="1" height="3.7" fill="#fff"/>
<rect x="498" y="483" width="4" height="6" fill="#fff"/>
<rect x="499" y="477.3" width="1" height="3.7" fill="#fff"/>
<rect x="305.5" y="494.5" width="225" height="18" fill="#fff" stroke="#000" stroke-width="1"/>
<rect x="304.5" y="500.5" width="8" height="7.5" fill="#fff" stroke="#000" stroke-width="1"/>
<rect x="312" y="495" width="4" height="16" fill="#000"/>
<polyline points="316,498.5 318.8,498.5 318.8,501.8 322.3,501.8 322.3,494.5" fill="none" stroke="#000" stroke-width="1"/>
<polyline points="322.3,499.8 325.5,499.8 325.5,508.5 316,508.5" fill="none" stroke="#000" stroke-width="1"/>
<rect x="519.3" y="494.5" width="3.5" height="16.4" fill="#000"/>
<rect x="523" y="501" width="8" height="1.1" fill="#000"/>
<rect x="523" y="508" width="8" height="1.1" fill="#000"/>
<polyline points="519.5,509 509.5,509 509.5,499.5 512,499.5" fill="none" stroke="#000" stroke-width="1"/>
<polyline points="511.7,494.5 511.7,501.7 516.8,501.7 516.8,499.3 519.5,499.3" fill="none" stroke="#000" stroke-width="1"/>
<rect x="330" y="496.3" width="175" height="13.5" fill="#000"/>
<rect x="333" y="503" width="4" height="6" fill="#fff"/>
<rect x="334" y="497.3" width="1" height="3.7" fill="#fff"/>
<rect x="339" y="503" width="4" height="6" fill="#fff"/>
<rect x="340" y="497.3" width="1" height="3.7" fill="#fff"/>
<rect x="345" y="503" width="4" height="6" fill="#fff"/>
<rect x="346" y="497.3" width="1" height="3.7" fill="#fff"/>
<rect x="351" y="503" width="4" height="6" fill="#fff"/>
<rect x="352" y="497.3" width="1" height="3.7" fill="#fff"/>
<rect x="357" y="503" width="4" height="6" fill="#fff"/>
<rect x="358" y="497.3" width="1" height="3.7" fill="#fff"/>
<rect x="362" y="503" width="4" height="6" fill="#fff"/>
<rect x="363" y="497.3" width="1" height="3.7" fill="#fff"/>
<rect x="363" y="500" width="2" height="3.2" fill="#fff"/>
<rect x="368" y="503" width="4" height="6" fill="#fff"/>
<rect x="369" y="497.3" width="1" height="3.7" fill="#fff"/>
<rect x="369" y="500" width="2" height="3.2" fill="#fff"/>
<rect x="374" y="503" width="4" height="6" fill="#fff"/>
<rect x="375" y="497.3" width="1" height="3.7" fill="#fff"/>
<rect x="380" y="503" width="4" height="6" fill="#fff"/>
<rect x="381" y="497.3" width="1" height="3.7" fill="#fff"/>
<rect x="386" y="503" width="4" height="6" fill="#fff"/>
<rect x="387" y="497.3" width="1" height="3.7" fill="#fff"/>
<rect x="392" y="503" width="4" height="6" fill="#fff"/>
<rect x="393" y="497.3" width="1" height="3.7" fill="#fff"/>
<rect x="398" y="503" width="4" height="6" fill="#fff"/>
<rect x="399" y="497.3" width="1" height="3.7" fill="#fff"/>
<rect x="404" y="503" width="4" height="6" fill="#fff"/>
<rect x="405" y="497.3" width="1" height="3.7" fill="#fff"/>
<rect x="410" y="503" width="4" height="6" fill="#fff"/>
<rect x="411" y="497.3" width="1" height="3.7" fill="#fff"/>
<rect x="416" y="503" width="4" height="6" fill="#fff"/>
<rect x="417" y="497.3" width="1" height="3.7" fill="#fff"/>
<rect x="422" y="503" width="4" height="6" fill="#fff"/>
<rect x="423" y="497.3" width="1" height="3.7" fill="#fff"/>
<rect x="427" y="503" width="4" height="6" fill="#fff"/>
<rect x="428" y="497.3" width="1" height="3.7" fill="#fff"/>
<rect x="433" y="503" width="4" height="6" fill="#fff"/>
<rect x="434" y="497.3" width="1" height="3.7" fill="#fff"/>
<rect x="439" y="503" width="4" height="6" fill="#fff"/>
<rect x="440" y="497.3" width="1" height="3.7" fill="#fff"/>
<rect x="445" y="503" width="4" height="6" fill="#fff"/>
<rect x="446" y="497.3" width="1" height="3.7" fill="#fff"/>
<rect x="451" y="503" width="4" height="6" fill="#fff"/>
<rect x="452" y="497.3" width="1" height="3.7" fill="#fff"/>
<rect x="457" y="503" width="4" height="6" fill="#fff"/>
<rect x="458" y="497.3" width="1" height="3.7" fill="#fff"/>
<rect x="463" y="503" width="4" height="6" fill="#fff"/>
<rect x="464" y="497.3" width="1" height="3.7" fill="#fff"/>
<rect x="469" y="503" width="4" height="6" fill="#fff"/>
<rect x="470" y="497.3" width="1" height="3.7" fill="#fff"/>
<rect x="475" y="503" width="4" height="6" fill="#fff"/>
<rect x="476" y="497.3" width="1" height="3.7" fill="#fff"/>
<rect x="480" y="503" width="4" height="6" fill="#fff"/>
<rect x="481" y="497.3" width="1" height="3.7" fill="#fff"/>
<rect x="486" y="503" width="4" height="6" fill="#fff"/>
<rect x="487" y="497.3" width="1" height="3.7" fill="#fff"/>
<rect x="492" y="503" width="4" height="6" fill="#fff"/>
<rect x="493" y="497.3" width="1" height="3.7" fill="#fff"/>
<rect x="498" y="503" width="4" height="6" fill="#fff"/>
<rect x="499" y="497.3" width="1" height="3.7" fill="#fff"/>
<rect x="548.5" y="382.5" width="24.3" height="111.5" fill="#fff" stroke="#000" stroke-width="1"/>
<line x1="564.5" y1="383" x2="564.5" y2="494" stroke="#000" stroke-width="1"/>
<rect x="553" y="382" width="5" height="2.2" fill="#fff"/>
<polyline points="553,382.5 553,384.5 558,384.5 558,382.5" fill="none" stroke="#000" stroke-width="1"/>
<rect x="553" y="491.5" width="5" height="2.7" fill="#fff"/>
<polyline points="553,494 553,491.5 558,491.5 558,494" fill="none" stroke="#000" stroke-width="1"/>
<rect x="552.5" y="388.6" width="6" height="6.6" fill="#fff" stroke="#000" stroke-width="1"/>
<rect x="552.5" y="398.02" width="6" height="6.6" fill="#fff" stroke="#000" stroke-width="1"/>
<rect x="552.5" y="407.44" width="6" height="6.6" fill="#fff" stroke="#000" stroke-width="1"/>
<rect x="552.5" y="416.86" width="6" height="6.6" fill="#fff" stroke="#000" stroke-width="1"/>
<rect x="552.5" y="426.28" width="6" height="6.6" fill="#fff" stroke="#000" stroke-width="1"/>
<rect x="552.5" y="435.7" width="6" height="6.6" fill="#fff" stroke="#000" stroke-width="1"/>
<rect x="552.5" y="445.12" width="6" height="6.6" fill="#fff" stroke="#000" stroke-width="1"/>
<rect x="552.5" y="454.54" width="6" height="6.6" fill="#fff" stroke="#000" stroke-width="1"/>
<rect x="552.5" y="463.96" width="6" height="6.6" fill="#fff" stroke="#000" stroke-width="1"/>
<rect x="552.5" y="473.38" width="6" height="6.6" fill="#fff" stroke="#000" stroke-width="1"/>
<rect x="552.5" y="482.8" width="6" height="6.6" fill="#fff" stroke="#000" stroke-width="1"/>
<rect x="560.2" y="384.1" width="2.9" height="7" fill="#000"/>
<rect x="564.8" y="387.2" width="2" height="1.4" fill="#000"/>
<rect x="566.5" y="385" width="3" height="5.8" fill="#000"/>
<rect x="569.5" y="386.4" width="1.1" height="3" fill="#000"/>
<rect x="560.2" y="393.4" width="2.9" height="7" fill="#000"/>
<rect x="564.8" y="396.5" width="2" height="1.4" fill="#000"/>
<rect x="566.5" y="394.3" width="3" height="5.8" fill="#000"/>
<rect x="569.5" y="395.7" width="1.1" height="3" fill="#000"/>
<rect x="560.2" y="402.7" width="2.9" height="7" fill="#000"/>
<rect x="564.8" y="405.8" width="2" height="1.4" fill="#000"/>
<rect x="566.5" y="403.6" width="3" height="5.8" fill="#000"/>
<rect x="569.5" y="405" width="1.1" height="3" fill="#000"/>
<rect x="560.2" y="412" width="2.9" height="7" fill="#000"/>
<rect x="564.8" y="415.1" width="2" height="1.4" fill="#000"/>
<rect x="566.5" y="412.9" width="3" height="5.8" fill="#000"/>
<rect x="569.5" y="414.3" width="1.1" height="3" fill="#000"/>
<rect x="560.2" y="421.3" width="2.9" height="7" fill="#000"/>
<rect x="564.8" y="424.4" width="2" height="1.4" fill="#000"/>
<rect x="566.5" y="422.2" width="3" height="5.8" fill="#000"/>
<rect x="569.5" y="423.6" width="1.1" height="3" fill="#000"/>
<rect x="560.2" y="430.6" width="2.9" height="7" fill="#000"/>
<rect x="564.8" y="433.7" width="2" height="1.4" fill="#000"/>
<rect x="566.5" y="431.5" width="3" height="5.8" fill="#000"/>
<rect x="569.5" y="432.9" width="1.1" height="3" fill="#000"/>
<rect x="560.2" y="439.9" width="2.9" height="7" fill="#000"/>
<rect x="564.8" y="443" width="2" height="1.4" fill="#000"/>
<rect x="566.5" y="440.8" width="3" height="5.8" fill="#000"/>
<rect x="569.5" y="442.2" width="1.1" height="3" fill="#000"/>
<rect x="560.2" y="449.2" width="2.9" height="7" fill="#000"/>
<rect x="564.8" y="452.3" width="2" height="1.4" fill="#000"/>
<rect x="566.5" y="450.1" width="3" height="5.8" fill="#000"/>
<rect x="569.5" y="451.5" width="1.1" height="3" fill="#000"/>
<rect x="560.2" y="458.5" width="2.9" height="7" fill="#000"/>
<rect x="564.8" y="461.6" width="2" height="1.4" fill="#000"/>
<rect x="566.5" y="459.4" width="3" height="5.8" fill="#000"/>
<rect x="569.5" y="460.8" width="1.1" height="3" fill="#000"/>
<rect x="560.2" y="467.8" width="2.9" height="7" fill="#000"/>
<rect x="564.8" y="470.9" width="2" height="1.4" fill="#000"/>
<rect x="566.5" y="468.7" width="3" height="5.8" fill="#000"/>
<rect x="569.5" y="470.1" width="1.1" height="3" fill="#000"/>
<rect x="560.2" y="477.1" width="2.9" height="7" fill="#000"/>
<rect x="564.8" y="480.2" width="2" height="1.4" fill="#000"/>
<rect x="566.5" y="478" width="3" height="5.8" fill="#000"/>
<rect x="569.5" y="479.4" width="1.1" height="3" fill="#000"/>
<rect x="560.2" y="486.4" width="2.9" height="6" fill="#000"/>
<rect x="564.8" y="489.5" width="2" height="1.4" fill="#000"/>
<rect x="566.5" y="487.3" width="3" height="5.8" fill="#000"/>
<rect x="569.5" y="488.7" width="1.1" height="3" fill="#000"/>
<path class="aa" d="M587,379.5 L609,379.5 L611.5,384 L611.5,386 L609.5,390 L609.5,396 L611.5,399 L611.5,400.5 L609.5,403 L609.5,409 L611.5,413 L611.5,415 L609,419.5 L587,419.5 L584.5,415 L584.5,413 L586.5,409 L586.5,403 L584.5,400.5 L584.5,399 L586.5,396 L586.5,390 L584.5,386 L584.5,384 Z" fill="#fff" stroke="#000" stroke-width="1.1" stroke-linejoin="round"/>
<polygon points="590,443 614,443 614,438 617,438 617,435.8 621,435.8 621,487 617,487 617,484 614,484 614,479.8 590,479.8 590,473.5 588.3,473.5 588.3,449 590,449" fill="#000"/>
<rect x="584.5" y="451.5" width="4.3" height="7.5" fill="#fff" stroke="#000" stroke-width="1"/>
<rect x="584.5" y="463.5" width="4.3" height="8" fill="#fff" stroke="#000" stroke-width="1"/>
<rect x="589" y="459.2" width="2" height="4.8" fill="#fff"/>
<polygon points="594.2,43.5 597.3,54.5 600.6,43.5" fill="#fff" stroke="#000" stroke-width="1.9" class="aa"/>
<rect x="596" y="52.5" width="2.7" height="9" fill="#000"/>
<rect x="574.8" y="25.9" width="44.1" height="19" rx="3.5" fill="#000"/>
<rect x="576.7" y="27.6" width="40" height="14.4" rx="2.0" fill="#fff"/>
<rect x="595.7" y="41.5" width="3.5" height="3.6" fill="#fff"/>
<text transform="translate(581.03,38.6) scale(0.860,1)" font-size="13" fill="#000" letter-spacing="1.608">JP34</text>
<rect x="589" y="61" width="18.6" height="6.6" fill="#000"/>
<rect x="593.8" y="62" width="1.8" height="4.6" fill="#fff"/>
<rect x="602.4" y="62" width="4.2" height="4.6" fill="#fff"/>
<rect x="603.4" y="63" width="2.2" height="2.6" fill="#888"/>
<rect x="599.8" y="62" width="1.4" height="4.6" fill="#fff"/>
<polygon points="552.8,80.8 563.72,83.16 552.8,86" fill="#fff" stroke="#000" stroke-width="1.9" class="aa"/>
<line x1="562.72" y1="83.16" x2="571" y2="83" stroke="#000" stroke-width="2.2" class="aa"/>
<rect x="513" y="75" width="41" height="18.8" rx="3.5" fill="#000"/>
<rect x="514.9" y="76.7" width="36.9" height="14.2" rx="2.0" fill="#fff"/>
<rect x="551" y="81.8" width="3.6" height="3.2" fill="#fff"/>
<text transform="translate(517.68,87.6) scale(0.860,1)" font-size="13" fill="#000" letter-spacing="1.608">JP10</text>
<rect x="568" y="79.5" width="19.5" height="6.5" fill="#000"/>
<rect x="573.1" y="80.5" width="1.8" height="4.5" fill="#fff"/>
<rect x="582" y="80.5" width="4.5" height="4.5" fill="#fff"/>
<rect x="583" y="81.5" width="2.5" height="2.5" fill="#888"/>
<rect x="579.4" y="80.5" width="1.4" height="4.5" fill="#fff"/>
<polygon points="43.3,165.4 54.52,168.48 43.3,170.6" fill="#fff" stroke="#000" stroke-width="1.9" class="aa"/>
<line x1="53.52" y1="168.48" x2="62" y2="168.8" stroke="#000" stroke-width="2.2" class="aa"/>
<rect x="3" y="159" width="41.5" height="18.6" rx="3.5" fill="#000"/>
<rect x="4.9" y="160.7" width="37.4" height="14" rx="2.0" fill="#fff"/>
<rect x="41.5" y="166.4" width="3.6" height="3.2" fill="#fff"/>
<text transform="translate(7.93,172) scale(0.860,1)" font-size="13" fill="#000" letter-spacing="1.608">JP27</text>
<rect x="59" y="140" width="12" height="60.8" fill="#000"/>
<rect x="60" y="141" width="10" height="1.4" fill="#fff"/>
<rect x="60" y="147" width="10" height="1.7" fill="#fff"/>
<rect x="60" y="153" width="10" height="2" fill="#fff"/>
<rect x="60" y="158.8" width="10" height="1.8" fill="#fff"/>
<rect x="60" y="164.4" width="10" height="1.3" fill="#fff"/>
<rect x="60" y="170" width="10" height="1.6" fill="#fff"/>
<rect x="60" y="176" width="10" height="2" fill="#fff"/>
<rect x="60" y="182" width="10" height="2" fill="#fff"/>
<rect x="60" y="188" width="10" height="1.2" fill="#fff"/>
<rect x="60" y="194" width="10" height="1.2" fill="#fff"/>
<rect x="60" y="199" width="10" height="1" fill="#fff"/>
<rect x="66" y="196" width="3" height="2" fill="#fff"/>
<polygon points="216.2,216.5 205.28,219.04 216.2,221.7" fill="#fff" stroke="#000" stroke-width="1.9" class="aa"/>
<line x1="206.28" y1="219.04" x2="198" y2="219" stroke="#000" stroke-width="2.2" class="aa"/>
<rect x="215" y="210" width="42" height="18.8" rx="3.5" fill="#000"/>
<rect x="216.9" y="211.7" width="37.9" height="14.2" rx="2.0" fill="#fff"/>
<rect x="214.4" y="217.5" width="3.6" height="3.2" fill="#fff"/>
<text transform="translate(220.18,223) scale(0.860,1)" font-size="13" fill="#000" letter-spacing="1.608">JP22</text>
<rect x="195" y="210" width="6" height="18.6" fill="#000"/>
<rect x="196.6" y="214.8" width="3.4" height="1.8" fill="#fff"/>
<rect x="196" y="223.4" width="4" height="4.2" fill="#fff"/>
<rect x="197" y="224.4" width="2" height="2.2" fill="#888"/>
<rect x="196.6" y="220.8" width="3.4" height="1.4" fill="#fff"/>
<polygon points="216.2,253.5 205.28,256.04 216.2,258.7" fill="#fff" stroke="#000" stroke-width="1.9" class="aa"/>
<line x1="206.28" y1="256.04" x2="198" y2="256" stroke="#000" stroke-width="2.2" class="aa"/>
<rect x="215" y="247" width="42" height="18.8" rx="3.5" fill="#000"/>
<rect x="216.9" y="248.7" width="37.9" height="14.2" rx="2.0" fill="#fff"/>
<rect x="214.4" y="254.5" width="3.6" height="3.2" fill="#fff"/>
<text transform="translate(220.18,260) scale(0.860,1)" font-size="13" fill="#000" letter-spacing="1.608">JP21</text>
<rect x="195" y="245" width="6" height="18.6" fill="#000"/>
<rect x="196.6" y="249.8" width="3.4" height="1.8" fill="#fff"/>
<rect x="196" y="258.4" width="4" height="4.2" fill="#fff"/>
<rect x="197" y="259.4" width="2" height="2.2" fill="#888"/>
<rect x="196.6" y="255.8" width="3.4" height="1.4" fill="#fff"/>
<rect x="155" y="231" width="32.7" height="18.7" rx="3.5" fill="#000"/>
<rect x="156.9" y="232.7" width="28.6" height="14.1" rx="2.0" fill="#fff"/>
<text transform="translate(158.85,244) scale(0.860,1)" font-size="13" fill="#000" letter-spacing="0.491">TAG</text>
<line x1="99" y1="261.5" x2="109" y2="271" stroke="#000" stroke-width="3" class="aa"/>
<rect x="60.4" y="246" width="41.4" height="18.6" rx="3.5" fill="#000"/>
<rect x="62.3" y="247.7" width="37.3" height="14" rx="2.0" fill="#fff"/>
<text transform="translate(65.28,259) scale(0.860,1)" font-size="13" fill="#000" letter-spacing="1.608">JP24</text>
<rect x="108" y="267" width="7" height="14" fill="#000"/>
<rect x="109" y="268" width="1" height="12" fill="#fff"/>
<rect x="109" y="267.9" width="5" height="1" fill="#fff"/>
<rect x="109" y="274" width="5" height="1" fill="#fff"/>
<rect x="109" y="279.2" width="5" height="1" fill="#fff"/>
<polygon points="62.8,277.2 73.72,279.68 62.8,282.4" fill="#fff" stroke="#000" stroke-width="1.9" class="aa"/>
<line x1="72.72" y1="279.68" x2="81" y2="279.6" stroke="#000" stroke-width="2.2" class="aa"/>
<rect x="21.8" y="271.2" width="42.2" height="17.8" rx="3.5" fill="#000"/>
<rect x="23.7" y="272.9" width="38.1" height="13.2" rx="2.0" fill="#fff"/>
<rect x="61" y="278.2" width="3.6" height="3.2" fill="#fff"/>
<text transform="translate(27.08,284) scale(0.860,1)" font-size="13" fill="#000" letter-spacing="1.608">JP25</text>
<rect x="78" y="276" width="18.6" height="6.8" fill="#000"/>
<rect x="82.8" y="277" width="1.8" height="4.8" fill="#fff"/>
<rect x="91.4" y="277" width="4.2" height="4.8" fill="#fff"/>
<rect x="92.4" y="278" width="2.2" height="2.8" fill="#888"/>
<rect x="88.8" y="277" width="1.4" height="4.8" fill="#fff"/>
<polygon points="88.5,318.4 99,321.42 88.5,323.6" fill="#fff" stroke="#000" stroke-width="1.9" class="aa"/>
<line x1="98" y1="321.42" x2="106" y2="321.7" stroke="#000" stroke-width="2.2" class="aa"/>
<rect x="48" y="311.9" width="41.7" height="18.8" rx="3.5" fill="#000"/>
<rect x="49.9" y="313.6" width="37.6" height="14.2" rx="2.0" fill="#fff"/>
<rect x="86.7" y="319.4" width="3.6" height="3.2" fill="#fff"/>
<text transform="translate(53.03,325.8) scale(0.860,1)" font-size="13" fill="#000" letter-spacing="1.608">JP28</text>
<rect x="104" y="315" width="7" height="14" fill="#000"/>
<rect x="105" y="316" width="5" height="1" fill="#fff"/>
<rect x="105" y="321.3" width="5" height="1" fill="#fff"/>
<rect x="105" y="327.2" width="5" height="1" fill="#fff"/>
<polygon points="364.8,263.55 375.72,266.36 364.8,268.75" fill="#fff" stroke="#000" stroke-width="1.9" class="aa"/>
<line x1="374.72" y1="266.36" x2="383" y2="266.5" stroke="#000" stroke-width="2.2" class="aa"/>
<rect x="324.2" y="257.1" width="41.8" height="18.7" rx="3.5" fill="#000"/>
<rect x="326.1" y="258.8" width="37.7" height="14.1" rx="2.0" fill="#fff"/>
<rect x="363" y="264.55" width="3.6" height="3.2" fill="#fff"/>
<text transform="translate(328.40,270.6) scale(0.860,1)" font-size="13" fill="#000" letter-spacing="1.608">JP14</text>
<rect x="380" y="263.3" width="19" height="6.5" fill="#000"/>
<rect x="384.933" y="264.3" width="1.8" height="4.5" fill="#fff"/>
<rect x="393.667" y="264.3" width="4.33333" height="4.5" fill="#fff"/>
<rect x="394.667" y="265.3" width="2.33333" height="2.5" fill="#888"/>
<rect x="391.067" y="264.3" width="1.4" height="4.5" fill="#fff"/>
<polygon points="364,292.3 374.2,295.14 364,297.5" fill="#fff" stroke="#000" stroke-width="1.9" class="aa"/>
<line x1="373.2" y1="295.14" x2="381" y2="295.3" stroke="#000" stroke-width="2.2" class="aa"/>
<rect x="339.3" y="286.1" width="25.9" height="18.2" rx="3.5" fill="#000"/>
<rect x="341.2" y="287.8" width="21.8" height="13.6" rx="2.0" fill="#fff"/>
<rect x="362.2" y="293.3" width="3.6" height="3.2" fill="#fff"/>
<text transform="translate(343.60,299.4) scale(0.823,1)" font-size="13" fill="#000">J1</text>
<rect x="379" y="289" width="25" height="12.7" fill="#000"/>
<rect x="380.2" y="290.2" width="22.6" height="10.3" fill="#fff"/>
<rect x="381" y="291.3" width="4.6" height="3.3" fill="#000"/>
<rect x="381" y="296.2" width="4.6" height="4.3" fill="#000"/>
<rect x="386.7" y="291.3" width="4.6" height="3.3" fill="#000"/>
<rect x="386.7" y="296.2" width="4.6" height="4.3" fill="#000"/>
<rect x="392.4" y="291.3" width="4.6" height="3.3" fill="#000"/>
<rect x="392.4" y="296.2" width="4.6" height="4.3" fill="#000"/>
<rect x="398.1" y="291.3" width="4.6" height="3.3" fill="#000"/>
<rect x="398.1" y="296.2" width="4.6" height="4.3" fill="#000"/>
<rect x="399.1" y="292.2" width="2.6" height="1.6" fill="#fff"/>
<polygon points="499.4,258.5 510.56,261.04 499.4,263.7" fill="#fff" stroke="#000" stroke-width="1.9" class="aa"/>
<line x1="509.56" y1="261.04" x2="518" y2="261" stroke="#000" stroke-width="2.2" class="aa"/>
<rect x="459.6" y="252.2" width="41" height="18.4" rx="3.5" fill="#000"/>
<rect x="461.5" y="253.9" width="36.9" height="13.8" rx="2.0" fill="#fff"/>
<rect x="497.6" y="259.5" width="3.6" height="3.2" fill="#fff"/>
<text transform="translate(464.77,265.2) scale(0.860,1)" font-size="13" fill="#000" letter-spacing="1.556">JP11</text>
<rect x="516" y="258.2" width="18.7" height="5.4" fill="#000"/>
<rect x="520.833" y="259.2" width="1.8" height="3.4" fill="#fff"/>
<rect x="529.467" y="259.2" width="4.23333" height="3.4" fill="#fff"/>
<rect x="530.467" y="260.2" width="2.23333" height="1.4" fill="#888"/>
<rect x="526.867" y="259.2" width="1.4" height="3.4" fill="#fff"/>
<polygon points="542.2,332.5 531.28,335.22 542.2,337.7" fill="#fff" stroke="#000" stroke-width="1.9" class="aa"/>
<line x1="532.28" y1="335.22" x2="524" y2="335.3" stroke="#000" stroke-width="2.2" class="aa"/>
<rect x="541" y="326.2" width="41.6" height="18.4" rx="3.5" fill="#000"/>
<rect x="542.9" y="327.9" width="37.5" height="13.8" rx="2.0" fill="#fff"/>
<rect x="540.4" y="333.5" width="3.6" height="3.2" fill="#fff"/>
<text transform="translate(545.98,339.2) scale(0.860,1)" font-size="13" fill="#000" letter-spacing="1.608">JP12</text>
<rect x="501" y="332.2" width="24.7" height="6.3" fill="#000"/>
<rect x="502" y="333.2" width="4.175" height="4.3" fill="#fff"/>
<rect x="503" y="334.2" width="2.175" height="2.3" fill="#888"/>
<rect x="505.775" y="333.2" width="1.8" height="4.3" fill="#fff"/>
<rect x="511.95" y="333.2" width="1.8" height="4.3" fill="#fff"/>
<rect x="518.125" y="333.2" width="1.8" height="4.3" fill="#fff"/>
<line x1="583" y1="227.5" x2="594.5" y2="238.5" stroke="#000" stroke-width="2.4" class="aa"/>
<rect x="553.3" y="212.4" width="32.3" height="17.6" rx="3.5" fill="#000"/>
<rect x="555.2" y="214.1" width="28.2" height="13" rx="2.0" fill="#fff"/>
<text transform="translate(557.70,225.4) scale(0.860,1)" font-size="13" fill="#000" letter-spacing="1.299">JP3</text>
<polygon points="568.1,243.5 578.84,246.34 568.1,248.7" fill="#fff" stroke="#000" stroke-width="1.9" class="aa"/>
<line x1="577.84" y1="246.34" x2="586" y2="246.5" stroke="#000" stroke-width="2.2" class="aa"/>
<rect x="534.6" y="237.8" width="34.7" height="17.2" rx="3.5" fill="#000"/>
<rect x="536.5" y="239.5" width="30.6" height="12.6" rx="2.0" fill="#fff"/>
<rect x="566.3" y="244.5" width="3.6" height="3.2" fill="#fff"/>
<text transform="translate(540.20,250.8) scale(0.860,1)" font-size="13" fill="#000" letter-spacing="1.299">JP4</text>
<line x1="588" y1="266" x2="597" y2="254" stroke="#000" stroke-width="2.4" class="aa"/>
<line x1="591.5" y1="266.5" x2="599" y2="255" stroke="#000" stroke-width="1.2" class="aa"/>
<rect x="558.6" y="263" width="34.3" height="18" rx="3.5" fill="#000"/>
<rect x="560.5" y="264.7" width="30.2" height="13.4" rx="2.0" fill="#fff"/>
<text transform="translate(564.00,276) scale(0.860,1)" font-size="13" fill="#000" letter-spacing="1.299">JP2</text>
<rect x="584" y="237" width="18" height="18.4" fill="#000"/>
<rect x="585.5" y="250.6" width="3" height="3" fill="#fff"/>
<rect x="591.5" y="250.6" width="3" height="3" fill="#fff"/>
<rect x="597.5" y="250.6" width="3" height="3" fill="#fff"/>
<rect x="585" y="243" width="11" height="1" fill="#fff"/>
<rect x="585" y="248.7" width="16" height="1" fill="#fff"/>
<rect x="585" y="240" width="10.5" height="0.8" fill="#fff"/>
<rect x="595.6" y="239" width="1" height="15" fill="#fff"/>
<rect x="597" y="243" width="4" height="1" fill="#fff"/>
<line x1="253" y1="364.5" x2="265" y2="371.5" stroke="#000" stroke-width="2.4" class="aa"/>
<rect x="215.6" y="349.4" width="41.3" height="16.8" rx="3.5" fill="#000"/>
<rect x="217.5" y="351.1" width="37.2" height="12.2" rx="2.0" fill="#fff"/>
<text transform="translate(220.43,361.4) scale(0.860,1)" font-size="13" fill="#000" letter-spacing="1.608">JP19</text>
<polygon points="247.1,376.45 258.44,379.5 247.1,381.65" fill="#fff" stroke="#000" stroke-width="1.9" class="aa"/>
<line x1="257.44" y1="379.5" x2="266" y2="379.8" stroke="#000" stroke-width="2.2" class="aa"/>
<rect x="207.4" y="370.3" width="40.9" height="18.1" rx="3.5" fill="#000"/>
<rect x="209.3" y="372" width="36.8" height="13.5" rx="2.0" fill="#fff"/>
<rect x="245.3" y="377.45" width="3.6" height="3.2" fill="#fff"/>
<text transform="translate(212.03,383.4) scale(0.860,1)" font-size="13" fill="#000" letter-spacing="1.608">JP18</text>
<line x1="253" y1="395" x2="265" y2="387.5" stroke="#000" stroke-width="2.4" class="aa"/>
<rect x="215.6" y="392.9" width="41.2" height="17.1" rx="3.5" fill="#000"/>
<rect x="217.5" y="394.6" width="37.1" height="12.5" rx="2.0" fill="#fff"/>
<text transform="translate(220.38,405.5) scale(0.860,1)" font-size="13" fill="#000" letter-spacing="1.608">JP17</text>
<rect x="263.3" y="370" width="19.6" height="18.8" fill="#000"/>
<rect x="264.2" y="371.2" width="0.9" height="4.8" fill="#fff"/>
<rect x="264.2" y="377.3" width="0.9" height="4.8" fill="#fff"/>
<rect x="264.2" y="383.4" width="0.9" height="3.4" fill="#fff"/>
<rect x="269" y="371.2" width="1.8" height="4.8" fill="#fff"/>
<rect x="269" y="377.3" width="1.8" height="4.8" fill="#fff"/>
<rect x="269" y="383.4" width="1.8" height="3.4" fill="#fff"/>
<rect x="274.8" y="371.2" width="1.2" height="4.8" fill="#fff"/>
<rect x="274.8" y="377.3" width="1.2" height="4.8" fill="#fff"/>
<rect x="274.8" y="383.4" width="1.2" height="3.4" fill="#fff"/>
<rect x="281" y="371.2" width="1" height="4.8" fill="#fff"/>
<rect x="281" y="377.3" width="1" height="4.8" fill="#fff"/>
<rect x="281" y="383.4" width="1" height="3.4" fill="#fff"/>
<rect x="277" y="372" width="3.2" height="2.8" fill="#fff"/>
<rect x="277" y="378" width="3.2" height="3" fill="#fff"/>
<rect x="277" y="383.7" width="3.2" height="2.4" fill="#fff"/>
<rect x="264.2" y="386.8" width="17.8" height="1" fill="#fff"/>
<line x1="254" y1="425" x2="245.5" y2="434" stroke="#000" stroke-width="2.4" class="aa"/>
<rect x="252" y="410.8" width="42.3" height="17.3" rx="3.5" fill="#000"/>
<rect x="253.9" y="412.5" width="38.2" height="12.7" rx="2.0" fill="#fff"/>
<text transform="translate(257.33,422.8) scale(0.860,1)" font-size="13" fill="#000" letter-spacing="1.608">JP16</text>
<polygon points="260.8,438.5 250.72,441.04 260.8,443.7" fill="#fff" stroke="#000" stroke-width="1.9" class="aa"/>
<line x1="251.72" y1="441.04" x2="244" y2="441" stroke="#000" stroke-width="2.2" class="aa"/>
<rect x="259.6" y="432.4" width="42.1" height="18" rx="3.5" fill="#000"/>
<rect x="261.5" y="434.1" width="38" height="13.4" rx="2.0" fill="#fff"/>
<rect x="259" y="439.5" width="3.6" height="3.2" fill="#fff"/>
<text transform="translate(264.83,445.4) scale(0.860,1)" font-size="13" fill="#000" letter-spacing="1.608">JP15</text>
<rect x="227" y="432.8" width="19" height="13.2" fill="#000"/>
<rect x="232.2" y="434" width="1.5" height="4.7" fill="#fff"/>
<rect x="232.2" y="439.8" width="1.5" height="4" fill="#fff"/>
<rect x="238.2" y="434" width="1.5" height="4.7" fill="#fff"/>
<rect x="238.2" y="439.8" width="1.5" height="4" fill="#fff"/>
<rect x="244.2" y="434" width="0.9" height="4.7" fill="#fff"/>
<rect x="244.2" y="439.8" width="0.9" height="4" fill="#fff"/>
<rect x="241" y="435" width="2.3" height="3" fill="#fff"/>
<rect x="241" y="440.8" width="2.3" height="2.4" fill="#fff"/>
<rect x="228" y="443.9" width="17" height="1.1" fill="#fff"/>
<polygon points="233.3,480.7 244.52,483.3 233.3,485.9" fill="#fff" stroke="#000" stroke-width="1.9" class="aa"/>
<line x1="243.52" y1="483.3" x2="252" y2="483.3" stroke="#000" stroke-width="2.2" class="aa"/>
<rect x="192.9" y="474.3" width="41.6" height="18.5" rx="3.5" fill="#000"/>
<rect x="194.8" y="476" width="37.5" height="13.9" rx="2.0" fill="#fff"/>
<rect x="231.5" y="481.7" width="3.6" height="3.2" fill="#fff"/>
<text transform="translate(197.40,487.9) scale(0.860,1)" font-size="13" fill="#000" letter-spacing="1.608">JP29</text>
<line x1="251" y1="501.5" x2="259" y2="490" stroke="#000" stroke-width="2.4" class="aa"/>
<line x1="252.8" y1="508" x2="262" y2="491" stroke="#000" stroke-width="1.7" class="aa"/>
<rect x="211" y="500.3" width="41.5" height="21.7" rx="3.5" fill="#000"/>
<rect x="212.9" y="502" width="37.4" height="17.1" rx="2.0" fill="#fff"/>
<text transform="translate(215.93,513.3) scale(0.860,1)" font-size="13" fill="#000" letter-spacing="1.608">JP30</text>
<rect x="210" y="518" width="44" height="5" fill="#fff"/>
<rect x="210" y="516" width="44" height="2" fill="#000"/>
<line x1="273" y1="501.5" x2="264" y2="490" stroke="#000" stroke-width="2.4" class="aa"/>
<line x1="271.8" y1="507" x2="262.3" y2="491" stroke="#000" stroke-width="1.7" class="aa"/>
<rect x="272" y="499.7" width="39.8" height="22.3" rx="3.5" fill="#000"/>
<rect x="273.9" y="501.4" width="35.7" height="17.7" rx="2.0" fill="#fff"/>
<text transform="translate(275.60,512.2) scale(0.860,1)" font-size="13" fill="#000" letter-spacing="1.608">JP31</text>
<rect x="271" y="518" width="42" height="5" fill="#fff"/>
<rect x="271" y="516" width="42" height="2" fill="#000"/>
<line x1="281" y1="467" x2="273" y2="478" stroke="#000" stroke-width="2.4" class="aa"/>
<rect x="277.5" y="452.5" width="40.9" height="16" rx="3.5" fill="#000"/>
<rect x="279.4" y="454.2" width="36.8" height="11.4" rx="2.0" fill="#fff"/>
<text transform="translate(282.13,464.8) scale(0.860,1)" font-size="13" fill="#000" letter-spacing="1.608">JP32</text>
<polygon points="295.2,479.75 283.68,483.2 295.2,485.75" fill="#fff" stroke="#000" stroke-width="1.9" class="aa"/>
<line x1="284.68" y1="483.2" x2="276" y2="483.5" stroke="#000" stroke-width="2.2" class="aa"/>
<rect x="294" y="474.3" width="40.4" height="17.5" rx="3.5" fill="#000"/>
<rect x="295.9" y="476" width="36.3" height="12.9" rx="2.0" fill="#fff"/>
<rect x="293.4" y="480.75" width="3.6" height="4" fill="#fff"/>
<text transform="translate(298.38,487.6) scale(0.860,1)" font-size="13" fill="#000" letter-spacing="1.608">JP33</text>
<rect x="249" y="477" width="30" height="14" fill="#000"/>
<rect x="272.7" y="490" width="6.3" height="6.5" fill="#000"/>
<rect x="250.5" y="483.6" width="3.5" height="0.9" fill="#fff"/>
<rect x="253.6" y="478.2" width="5.4" height="11.6" fill="#fff"/>
<rect x="253.6" y="483.4" width="4.6" height="1" fill="#000"/>
<rect x="262" y="480.3" width="3.8" height="0.9" fill="#fff"/>
<rect x="262" y="486.8" width="3.8" height="0.9" fill="#fff"/>
<rect x="268.2" y="478.2" width="4.6" height="11.6" fill="#fff"/>
<rect x="269" y="483.6" width="3.8" height="1" fill="#000"/>
<rect x="274" y="478.2" width="3.8" height="17.3" fill="#fff"/>
<rect x="274.8" y="483.6" width="3" height="1" fill="#000"/>
<rect x="274.8" y="489.6" width="3" height="1" fill="#000"/>
<rect x="274.8" y="491.8" width="2.6" height="2.6" fill="#888"/>
<line x1="578" y1="505" x2="590" y2="497" stroke="#000" stroke-width="2.8" class="aa"/>
<rect x="548.4" y="503" width="34.4" height="18.5" rx="3.5" fill="#000"/>
<rect x="550.3" y="504.7" width="30.3" height="13.9" rx="2.0" fill="#fff"/>
<text transform="translate(553.40,516.6) scale(0.860,1)" font-size="13" fill="#000" letter-spacing="1.008">JP1</text>
<rect x="589" y="495.4" width="25.6" height="6.2" fill="#000"/>
<rect x="594" y="496.4" width="1.8" height="4.2" fill="#fff"/>
<rect x="600.4" y="496.4" width="1.8" height="4.2" fill="#fff"/>
<rect x="609.2" y="496.4" width="4.4" height="4.2" fill="#fff"/>
<rect x="610.2" y="497.4" width="2.4" height="2.2" fill="#888"/>
<rect x="606.6" y="496.4" width="1.4" height="4.2" fill="#fff"/>
<rect x="388" y="383" width="59.4" height="17.4" rx="3.5" fill="#000"/>
<rect x="389.9" y="384.7" width="55.3" height="12.8" rx="2.0" fill="#fff"/>
<text transform="translate(394.45,396.4) scale(0.860,1)" font-size="13" fill="#000" letter-spacing="1.100">BANK 1</text>
<rect x="388" y="463.4" width="59.4" height="17.2" rx="3.5" fill="#000"/>
<rect x="389.9" y="465.1" width="55.3" height="12.6" rx="2.0" fill="#fff"/>
<text transform="translate(393.45,476.8) scale(0.860,1)" font-size="13" fill="#000" letter-spacing="1.565">BANK 0</text>
</svg>
</body></html>
